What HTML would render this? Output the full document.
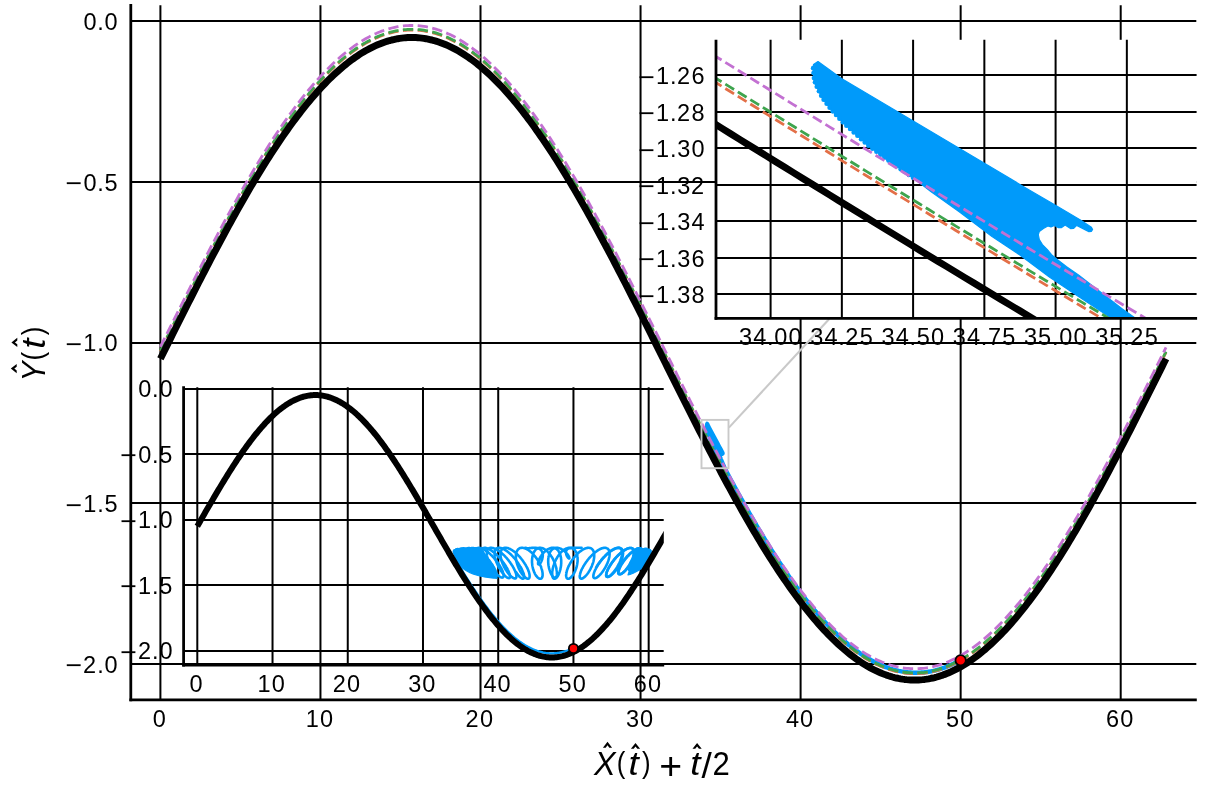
<!DOCTYPE html>
<html><head><meta charset="utf-8"><title>Trajectory on a sinusoidal surface with lens insets</title><style>html,body{margin:0;padding:0;background:#fff;width:1212px;height:791px;overflow:hidden}svg{display:block;position:absolute;left:0;top:0;will-change:transform}</style></head><body>
<svg width="1212" height="791" viewBox="0 0 1212 791" font-family="'Liberation Sans', sans-serif" fill="#000">
<defs>
<clipPath id="cm"><rect x="131" y="4" width="1066" height="696"/></clipPath>
<clipPath id="cu"><rect x="716" y="39.3" width="480.5" height="278.9"/></clipPath>
<clipPath id="cl"><rect x="183.6" y="387" width="480.2" height="278"/></clipPath>
</defs>
<rect width="1212" height="791" fill="#fff"/>
<g stroke="#000" stroke-width="2.0" fill="none">
<path d="M160.4 5.2 V699.9"/>
<path d="M320.45 5.2 V699.9"/>
<path d="M480.5 5.2 V699.9"/>
<path d="M640.55 5.2 V699.9"/>
<path d="M800.6 5.2 V699.9"/>
<path d="M960.65 5.2 V699.9"/>
<path d="M1120.7 5.2 V699.9"/>
<path d="M130.8 21 H1196.3"/>
<path d="M130.8 182 H1196.3"/>
<path d="M130.8 343 H1196.3"/>
<path d="M130.8 503 H1196.3"/>
<path d="M130.8 664 H1196.3"/>
</g>
<g clip-path="url(#cm)" fill="none" stroke-linejoin="round">
<path d="M707.23 423.79 L708.55 426.77 L712.58 434.25 L717.45 443.33 L719.09 446.41 L720.57 449.09 L721.99 451.75 L722.59 452.96 L722.65 453.37 L722.59 453.68 L722.45 453.74 L721.76 452.65 L721.59 453.17 L721.41 453.21 L721.11 452.56 L720.91 453.03 L720.74 453.03 L720.51 452.65 L720.32 452.91 L720.14 452.73 L719.89 453.17 L719.66 453.72 L719.6 454.25 L719.66 455.13 L719.83 456.03 L720.11 456.92 L720.34 457.8 L720.68 458.7 L721.19 459.93 L721.86 461.36 L723.07 464.32 L724.29 467.28 L724.96 468.76 L725.88 470.89 L724.47 470.89 L723.61 468.76 L721.86 465.16 L720.24 461.78 L718.63 457.98 L717 454.6 L715.18 450.28 L713.57 446.69 L712.64 444.46 L711.23 441.37 L709.99 438.47 L708.64 434.56 L707.98 432.35 L707.45 430.14 L707.14 428.14 L707.01 427.05 L706.95 424.96 L706.98 424.32Z" fill="#009AFA" stroke="#009AFA" stroke-width="4.17" stroke-linejoin="round"/>
<path d="M722.98 465.19 L724.16 467.43 L725.35 469.67 L726.54 471.89 L727.73 474.11 L728.92 476.32 L730.11 478.53 L731.29 480.73 L732.48 482.92 L733.67 485.1 L734.86 487.28 L736.05 489.45 L737.24 491.61 L738.42 493.76 L739.61 495.9 L740.8 498.04 L741.99 500.17 L743.18 502.29 L744.37 504.4 L745.55 506.5 L746.74 508.6 L747.93 510.68 L749.12 512.76 L750.31 514.82 L751.5 516.88 L752.69 518.93 L753.87 520.97 L755.06 523 L756.25 525.02 L757.44 527.03 L758.63 529.03 L759.82 531.02 L761 533 L762.19 534.97 L763.38 536.93 L764.57 538.88 L765.76 540.82 L766.95 542.75 L768.13 544.67 L769.32 546.57 L770.51 548.47 L771.7 550.36 L772.89 552.23 L774.08 554.09 L775.26 555.95 L776.45 557.79 L777.64 559.61 L778.83 561.43 L780.02 563.24 L781.21 565.03 L782.39 566.81 L783.58 568.58 L784.77 570.34 L785.96 572.08 L787.15 573.82 L788.34 575.54 L789.52 577.25 L790.71 578.94 L791.9 580.63 L793.09 582.3 L794.28 583.95 L795.47 585.6 L796.65 587.23 L797.84 588.85 L799.03 590.45 L800.22 592.04 L801.41 593.62 L802.6 595.19 L803.78 596.74 L804.97 598.28 L806.16 599.8 L807.35 601.31 L808.54 602.81 L809.73 604.29 L810.92 605.76 L812.1 607.21 L813.29 608.65 L814.48 610.08 L815.67 611.49 L816.86 612.89 L818.05 614.27 L819.23 615.64 L820.42 616.99 L821.61 618.33 L822.8 619.65 L823.99 620.96 L825.18 622.25 L826.36 623.53 L827.55 624.8 L828.74 626.05 L829.93 627.28 L831.12 628.5 L832.31 629.7 L833.49 630.89 L834.68 632.06 L835.87 633.22 L837.06 634.36 L838.25 635.48 L839.44 636.59 L840.62 637.68 L841.81 638.76 L843 639.82 L844.19 640.87 L845.38 641.9 L846.57 642.91 L847.75 643.91 L848.94 644.89 L850.13 645.86 L851.32 646.8 L852.51 647.74 L853.7 648.65 L854.88 649.55 L856.07 650.44 L857.26 651.3 L858.45 652.15 L859.64 652.98 L860.83 653.8 L862.02 654.6 L863.2 655.38 L864.39 656.15 L865.58 656.9 L866.77 657.63 L867.96 658.35 L869.15 659.05 L870.33 659.73 L871.52 660.39 L872.71 661.04 L873.9 661.67 L875.09 662.28 L876.28 662.88 L877.46 663.46 L878.65 664.02 L879.84 664.57 L881.03 665.09 L882.22 665.6 L883.41 666.1 L884.59 666.57 L885.78 667.03 L886.97 667.47 L888.16 667.89 L889.35 668.3 L890.54 668.68 L891.72 669.05 L892.91 669.41 L894.1 669.74 L895.29 670.06 L896.48 670.36 L897.67 670.64 L898.85 670.91 L900.04 671.15 L901.23 671.38 L902.42 671.6 L903.61 671.79 L904.8 671.97 L905.98 672.13 L907.17 672.27 L908.36 672.39 L909.55 672.5 L910.74 672.59 L911.93 672.66 L913.12 672.71 L914.3 672.74 L915.49 672.76 L916.68 672.76 L917.87 672.74 L919.06 672.71 L920.25 672.65 L921.43 672.58 L922.62 672.49 L923.81 672.39 L925 672.26 L926.19 672.12 L927.38 671.96 L928.56 671.78 L929.75 671.59 L930.94 671.37 L932.13 671.14 L933.32 670.9 L934.51 670.63 L935.69 670.35 L936.88 670.05 L938.07 669.71 L939.26 669.36 L940.45 668.98 L941.64 668.59 L942.82 668.18 L944.01 667.75 L945.2 667.31 L946.39 666.85 L947.58 666.37 L948.77 665.87 L949.95 665.36 L951.14 664.83 L952.33 664.28 L953.52 663.71 L954.71 663.13 L955.9 662.53 L957.08 661.91 L958.27 661.28 L959.46 660.63 L960.65 659.96" stroke="#009AFA" stroke-width="4.5"/>
<path d="M160.4 351.38 L162.41 347.34 L164.42 343.3 L166.43 339.27 L168.44 335.23 L170.46 331.2 L172.47 327.17 L174.48 323.15 L176.49 319.13 L178.5 315.11 L180.51 311.11 L182.52 307.1 L184.53 303.11 L186.55 299.12 L188.56 295.14 L190.57 291.17 L192.58 287.21 L194.59 283.26 L196.6 279.32 L198.61 275.39 L200.62 271.47 L202.64 267.57 L204.65 263.68 L206.66 259.8 L208.67 255.94 L210.68 252.09 L212.69 248.26 L214.7 244.44 L216.71 240.64 L218.73 236.86 L220.74 233.1 L222.75 229.35 L224.76 225.63 L226.77 221.92 L228.78 218.24 L230.79 214.57 L232.8 210.93 L234.82 207.31 L236.83 203.71 L238.84 200.14 L240.85 196.59 L242.86 193.06 L244.87 189.56 L246.88 186.09 L248.89 182.64 L250.91 179.21 L252.92 175.82 L254.93 172.45 L256.94 169.11 L258.95 165.8 L260.96 162.52 L262.97 159.27 L264.98 156.05 L267 152.86 L269.01 149.7 L271.02 146.57 L273.03 143.48 L275.04 140.41 L277.05 137.39 L279.06 134.39 L281.07 131.43 L283.09 128.5 L285.1 125.61 L287.11 122.76 L289.12 119.94 L291.13 117.16 L293.14 114.41 L295.15 111.7 L297.16 109.03 L299.18 106.4 L301.19 103.81 L303.2 101.26 L305.21 98.74 L307.22 96.27 L309.23 93.83 L311.24 91.44 L313.25 89.09 L315.27 86.77 L317.28 84.5 L319.29 82.28 L321.3 80.09 L323.31 77.95 L325.32 75.85 L327.33 73.8 L329.34 71.78 L331.36 69.82 L333.37 67.89 L335.38 66.02 L337.39 64.18 L339.4 62.4 L341.41 60.65 L343.42 58.96 L345.43 57.31 L347.45 55.7 L349.46 54.15 L351.47 52.64 L353.48 51.18 L355.49 49.76 L357.5 48.39 L359.51 47.07 L361.52 45.8 L363.54 44.58 L365.55 43.4 L367.56 42.28 L369.57 41.2 L371.58 40.17 L373.59 39.19 L375.6 38.26 L377.61 37.38 L379.63 36.55 L381.64 35.77 L383.65 35.03 L385.66 34.35 L387.67 33.72 L389.68 33.14 L391.69 32.61 L393.7 32.13 L395.72 31.7 L397.73 31.32 L399.74 30.99 L401.75 30.71 L403.76 30.48 L405.77 30.3 L407.78 30.18 L409.79 30.1 L411.81 30.08 L413.82 30.1 L415.83 30.18 L417.84 30.3 L419.85 30.48 L421.86 30.71 L423.87 30.99 L425.88 31.32 L427.9 31.7 L429.91 32.13 L431.92 32.61 L433.93 33.14 L435.94 33.72 L437.95 34.35 L439.96 35.03 L441.97 35.77 L443.99 36.55 L446 37.38 L448.01 38.26 L450.02 39.19 L452.03 40.17 L454.04 41.2 L456.05 42.28 L458.06 43.4 L460.08 44.58 L462.09 45.8 L464.1 47.07 L466.11 48.39 L468.12 49.76 L470.13 51.18 L472.14 52.64 L474.15 54.15 L476.17 55.7 L478.18 57.31 L480.19 58.96 L482.2 60.65 L484.21 62.4 L486.22 64.18 L488.23 66.02 L490.24 67.9 L492.26 69.82 L494.27 71.79 L496.28 73.8 L498.29 75.85 L500.3 77.95 L502.31 80.09 L504.32 82.28 L506.33 84.5 L508.35 86.77 L510.36 89.09 L512.37 91.44 L514.38 93.83 L516.39 96.27 L518.4 98.74 L520.41 101.26 L522.42 103.81 L524.44 106.4 L526.45 109.03 L528.46 111.7 L530.47 114.41 L532.48 117.16 L534.49 119.94 L536.5 122.76 L538.51 125.61 L540.53 128.5 L542.54 131.43 L544.55 134.39 L546.56 137.39 L548.57 140.41 L550.58 143.48 L552.59 146.57 L554.6 149.7 L556.62 152.86 L558.63 156.05 L560.64 159.27 L562.65 162.52 L564.66 165.8 L566.67 169.11 L568.68 172.45 L570.69 175.82 L572.71 179.21 L574.72 182.64 L576.73 186.09 L578.74 189.56 L580.75 193.06 L582.76 196.59 L584.77 200.14 L586.78 203.71 L588.8 207.31 L590.81 210.93 L592.82 214.57 L594.83 218.24 L596.84 221.92 L598.85 225.63 L600.86 229.35 L602.87 233.1 L604.89 236.86 L606.9 240.64 L608.91 244.44 L610.92 248.26 L612.93 252.09 L614.94 255.94 L616.95 259.8 L618.96 263.68 L620.98 267.57 L622.99 271.47 L625 275.39 L627.01 279.32 L629.02 283.26 L631.03 287.21 L633.04 291.17 L635.05 295.14 L637.07 299.12 L639.08 303.11 L641.09 307.1 L643.1 311.11 L645.11 315.12 L647.12 319.13 L649.13 323.15 L651.14 327.17 L653.16 331.2 L655.17 335.23 L657.18 339.27 L659.19 343.3 L661.2 347.34 L663.21 351.38 L665.22 355.41 L667.23 359.45 L669.25 363.49 L671.26 367.52 L673.27 371.55 L675.28 375.58 L677.29 379.6 L679.3 383.62 L681.31 387.64 L683.32 391.65 L685.34 395.65 L687.35 399.64 L689.36 403.63 L691.37 407.61 L693.38 411.58 L695.39 415.54 L697.4 419.49 L699.41 423.43 L701.43 427.36 L703.44 431.28 L705.45 435.19 L707.46 439.09 L709.47 442.98 L711.48 446.85 L713.49 450.71 L715.5 454.55 L717.52 458.37 L719.53 462.18 L721.54 465.97 L723.55 469.75 L725.56 473.5 L727.57 477.24 L729.58 480.95 L731.59 484.65 L733.61 488.32 L735.62 491.97 L737.63 495.6 L739.64 499.21 L741.65 502.8 L743.66 506.36 L745.67 509.89 L747.68 513.4 L749.7 516.89 L751.71 520.35 L753.72 523.78 L755.73 527.19 L757.74 530.56 L759.75 533.91 L761.76 537.23 L763.77 540.52 L765.79 543.79 L767.8 547.02 L769.81 550.22 L771.82 553.39 L773.83 556.52 L775.84 559.63 L777.85 562.7 L779.86 565.74 L781.88 568.74 L783.89 571.71 L785.9 574.65 L787.91 577.55 L789.92 580.41 L791.93 583.24 L793.94 586.04 L795.95 588.79 L797.97 591.51 L799.98 594.19 L801.99 596.83 L804 599.43 L806.01 602 L808.02 604.52 L810.03 607.01 L812.04 609.45 L814.06 611.85 L816.07 614.22 L818.08 616.54 L820.09 618.82 L822.1 621.05 L824.11 623.25 L826.12 625.4 L828.13 627.51 L830.15 629.57 L832.16 631.6 L834.17 633.57 L836.18 635.51 L838.19 637.39 L840.2 639.24 L842.21 641.03 L844.22 642.79 L846.24 644.49 L848.25 646.15 L850.26 647.77 L852.27 649.33 L854.28 650.85 L856.29 652.33 L858.3 653.75 L860.31 655.13 L862.33 656.46 L864.34 657.74 L866.35 658.97 L868.36 660.16 L870.37 661.29 L872.38 662.38 L874.39 663.42 L876.4 664.41 L878.42 665.35 L880.43 666.24 L882.44 667.08 L884.45 667.87 L886.46 668.61 L888.47 669.31 L890.48 669.95 L892.49 670.54 L894.51 671.08 L896.52 671.57 L898.53 672.01 L900.54 672.4 L902.55 672.74 L904.56 673.03 L906.57 673.27 L908.58 673.45 L910.6 673.59 L912.61 673.68 L914.62 673.7 L916.63 673.68 L918.64 673.6 L920.65 673.47 L922.66 673.3 L924.67 673.07 L926.69 672.79 L928.7 672.46 L930.71 672.08 L932.72 671.65 L934.73 671.17 L936.74 670.64 L938.75 670.06 L940.76 669.43 L942.78 668.74 L944.79 668.01 L946.8 667.23 L948.81 666.4 L950.82 665.52 L952.83 664.59 L954.84 663.61 L956.85 662.58 L958.87 661.5 L960.88 660.38 L962.89 659.2 L964.9 657.98 L966.91 656.71 L968.92 655.39 L970.93 654.02 L972.94 652.6 L974.96 651.14 L976.97 649.63 L978.98 648.07 L980.99 646.47 L983 644.82 L985.01 643.12 L987.02 641.38 L989.03 639.59 L991.05 637.76 L993.06 635.88 L995.07 633.96 L997.08 631.99 L999.09 629.98 L1001.1 627.93 L1003.11 625.83 L1005.12 623.69 L1007.14 621.5 L1009.15 619.27 L1011.16 617 L1013.17 614.69 L1015.18 612.34 L1017.19 609.95 L1019.2 607.51 L1021.21 605.04 L1023.23 602.52 L1025.24 599.97 L1027.25 597.38 L1029.26 594.74 L1031.27 592.07 L1033.28 589.37 L1035.29 586.62 L1037.3 583.84 L1039.32 581.02 L1041.33 578.16 L1043.34 575.27 L1045.35 572.35 L1047.36 569.39 L1049.37 566.39 L1051.38 563.36 L1053.39 560.3 L1055.41 557.21 L1057.42 554.08 L1059.43 550.92 L1061.44 547.73 L1063.45 544.51 L1065.46 541.26 L1067.47 537.98 L1069.48 534.67 L1071.5 531.33 L1073.51 527.96 L1075.52 524.56 L1077.53 521.14 L1079.54 517.69 L1081.55 514.22 L1083.56 510.72 L1085.57 507.19 L1087.59 503.64 L1089.6 500.07 L1091.61 496.47 L1093.62 492.85 L1095.63 489.2 L1097.64 485.54 L1099.65 481.86 L1101.66 478.15 L1103.68 474.42 L1105.69 470.68 L1107.7 466.92 L1109.71 463.14 L1111.72 459.34 L1113.73 455.52 L1115.74 451.69 L1117.75 447.84 L1119.77 443.98 L1121.78 440.1 L1123.79 436.21 L1125.8 432.31 L1127.81 428.39 L1129.82 424.46 L1131.83 420.52 L1133.84 416.57 L1135.86 412.61 L1137.87 408.64 L1139.88 404.66 L1141.89 400.67 L1143.9 396.67 L1145.91 392.67 L1147.92 388.66 L1149.93 384.65 L1151.95 380.63 L1153.96 376.6 L1155.97 372.58 L1157.98 368.55 L1159.99 364.51 L1162 360.48 L1164.01 356.44 L1166.02 352.4" stroke="#E36F47" stroke-width="2.78" stroke-dasharray="10.33 4.46" stroke-dashoffset="0.3"/>
<path d="M160.4 350.6 L162.41 346.57 L164.42 342.53 L166.43 338.49 L168.44 334.46 L170.46 330.43 L172.47 326.4 L174.48 322.38 L176.49 318.36 L178.5 314.34 L180.51 310.33 L182.52 306.33 L184.53 302.34 L186.55 298.35 L188.56 294.37 L190.57 290.4 L192.58 286.44 L194.59 282.49 L196.6 278.55 L198.61 274.62 L200.62 270.7 L202.64 266.8 L204.65 262.9 L206.66 259.03 L208.67 255.16 L210.68 251.32 L212.69 247.48 L214.7 243.67 L216.71 239.87 L218.73 236.09 L220.74 232.33 L222.75 228.58 L224.76 224.86 L226.77 221.15 L228.78 217.47 L230.79 213.8 L232.8 210.16 L234.82 206.54 L236.83 202.94 L238.84 199.37 L240.85 195.82 L242.86 192.29 L244.87 188.79 L246.88 185.31 L248.89 181.87 L250.91 178.44 L252.92 175.05 L254.93 171.68 L256.94 168.34 L258.95 165.03 L260.96 161.75 L262.97 158.5 L264.98 155.28 L267 152.09 L269.01 148.93 L271.02 145.8 L273.03 142.7 L275.04 139.64 L277.05 136.61 L279.06 133.62 L281.07 130.66 L283.09 127.73 L285.1 124.84 L287.11 121.99 L289.12 119.17 L291.13 116.39 L293.14 113.64 L295.15 110.93 L297.16 108.26 L299.18 105.63 L301.19 103.04 L303.2 100.48 L305.21 97.97 L307.22 95.49 L309.23 93.06 L311.24 90.67 L313.25 88.31 L315.27 86 L317.28 83.73 L319.29 81.51 L321.3 79.32 L323.31 77.18 L325.32 75.08 L327.33 73.03 L329.34 71.01 L331.36 69.05 L333.37 67.12 L335.38 65.25 L337.39 63.41 L339.4 61.62 L341.41 59.88 L343.42 58.19 L345.43 56.54 L347.45 54.93 L349.46 53.38 L351.47 51.87 L353.48 50.4 L355.49 48.99 L357.5 47.62 L359.51 46.3 L361.52 45.03 L363.54 43.81 L365.55 42.63 L367.56 41.5 L369.57 40.43 L371.58 39.4 L373.59 38.42 L375.6 37.49 L377.61 36.61 L379.63 35.78 L381.64 35 L383.65 34.26 L385.66 33.58 L387.67 32.95 L389.68 32.37 L391.69 31.84 L393.7 31.36 L395.72 30.93 L397.73 30.55 L399.74 30.22 L401.75 29.94 L403.76 29.71 L405.77 29.53 L407.78 29.41 L409.79 29.33 L411.81 29.3 L413.82 29.33 L415.83 29.41 L417.84 29.53 L419.85 29.71 L421.86 29.94 L423.87 30.22 L425.88 30.55 L427.9 30.93 L429.91 31.36 L431.92 31.84 L433.93 32.37 L435.94 32.95 L437.95 33.58 L439.96 34.26 L441.97 35 L443.99 35.78 L446 36.61 L448.01 37.49 L450.02 38.42 L452.03 39.4 L454.04 40.43 L456.05 41.5 L458.06 42.63 L460.08 43.81 L462.09 45.03 L464.1 46.3 L466.11 47.62 L468.12 48.99 L470.13 50.4 L472.14 51.87 L474.15 53.38 L476.17 54.93 L478.18 56.54 L480.19 58.19 L482.2 59.88 L484.21 61.63 L486.22 63.41 L488.23 65.25 L490.24 67.12 L492.26 69.05 L494.27 71.01 L496.28 73.03 L498.29 75.08 L500.3 77.18 L502.31 79.32 L504.32 81.51 L506.33 83.73 L508.35 86 L510.36 88.31 L512.37 90.67 L514.38 93.06 L516.39 95.5 L518.4 97.97 L520.41 100.48 L522.42 103.04 L524.44 105.63 L526.45 108.26 L528.46 110.93 L530.47 113.64 L532.48 116.39 L534.49 119.17 L536.5 121.99 L538.51 124.84 L540.53 127.73 L542.54 130.66 L544.55 133.62 L546.56 136.61 L548.57 139.64 L550.58 142.71 L552.59 145.8 L554.6 148.93 L556.62 152.09 L558.63 155.28 L560.64 158.5 L562.65 161.75 L564.66 165.03 L566.67 168.34 L568.68 171.68 L570.69 175.05 L572.71 178.44 L574.72 181.87 L576.73 185.32 L578.74 188.79 L580.75 192.29 L582.76 195.82 L584.77 199.37 L586.78 202.94 L588.8 206.54 L590.81 210.16 L592.82 213.8 L594.83 217.47 L596.84 221.15 L598.85 224.86 L600.86 228.58 L602.87 232.33 L604.89 236.09 L606.9 239.87 L608.91 243.67 L610.92 247.49 L612.93 251.32 L614.94 255.17 L616.95 259.03 L618.96 262.91 L620.98 266.8 L622.99 270.7 L625 274.62 L627.01 278.55 L629.02 282.49 L631.03 286.44 L633.04 290.4 L635.05 294.37 L637.07 298.35 L639.08 302.34 L641.09 306.33 L643.1 310.34 L645.11 314.34 L647.12 318.36 L649.13 322.38 L651.14 326.4 L653.16 330.43 L655.17 334.46 L657.18 338.49 L659.19 342.53 L661.2 346.57 L663.21 350.6 L665.22 354.64 L667.23 358.68 L669.25 362.71 L671.26 366.75 L673.27 370.78 L675.28 374.81 L677.29 378.83 L679.3 382.85 L681.31 386.87 L683.32 390.87 L685.34 394.88 L687.35 398.87 L689.36 402.86 L691.37 406.84 L693.38 410.81 L695.39 414.77 L697.4 418.72 L699.41 422.66 L701.43 426.59 L703.44 430.51 L705.45 434.42 L707.46 438.32 L709.47 442.21 L711.48 446.08 L713.49 449.94 L715.5 453.78 L717.52 457.6 L719.53 461.41 L721.54 465.2 L723.55 468.98 L725.56 472.73 L727.57 476.47 L729.58 480.18 L731.59 483.88 L733.61 487.55 L735.62 491.2 L737.63 494.83 L739.64 498.44 L741.65 502.03 L743.66 505.59 L745.67 509.12 L747.68 512.63 L749.7 516.12 L751.71 519.58 L753.72 523.01 L755.73 526.41 L757.74 529.79 L759.75 533.14 L761.76 536.46 L763.77 539.75 L765.79 543.01 L767.8 546.25 L769.81 549.45 L771.82 552.61 L773.83 555.75 L775.84 558.86 L777.85 561.93 L779.86 564.97 L781.88 567.97 L783.89 570.94 L785.9 573.88 L787.91 576.78 L789.92 579.64 L791.93 582.47 L793.94 585.26 L795.95 588.02 L797.97 590.74 L799.98 593.42 L801.99 596.06 L804 598.66 L806.01 601.23 L808.02 603.75 L810.03 606.23 L812.04 608.68 L814.06 611.08 L816.07 613.45 L818.08 615.77 L820.09 618.05 L822.1 620.28 L824.11 622.48 L826.12 624.63 L828.13 626.74 L830.15 628.8 L832.16 630.82 L834.17 632.8 L836.18 634.73 L838.19 636.62 L840.2 638.47 L842.21 640.26 L844.22 642.02 L846.24 643.72 L848.25 645.38 L850.26 646.99 L852.27 648.56 L854.28 650.08 L856.29 651.55 L858.3 652.98 L860.31 654.36 L862.33 655.69 L864.34 656.97 L866.35 658.2 L868.36 659.39 L870.37 660.52 L872.38 661.61 L874.39 662.65 L876.4 663.64 L878.42 664.58 L880.43 665.47 L882.44 666.31 L884.45 667.1 L886.46 667.84 L888.47 668.54 L890.48 669.18 L892.49 669.77 L894.51 670.31 L896.52 670.8 L898.53 671.24 L900.54 671.63 L902.55 671.97 L904.56 672.26 L906.57 672.5 L908.58 672.68 L910.6 672.82 L912.61 672.91 L914.62 672.93 L916.63 672.91 L918.64 672.83 L920.65 672.7 L922.66 672.53 L924.67 672.3 L926.69 672.02 L928.7 671.69 L930.71 671.31 L932.72 670.88 L934.73 670.4 L936.74 669.87 L938.75 669.29 L940.76 668.65 L942.78 667.97 L944.79 667.24 L946.8 666.46 L948.81 665.63 L950.82 664.75 L952.83 663.82 L954.84 662.84 L956.85 661.81 L958.87 660.73 L960.88 659.6 L962.89 658.43 L964.9 657.21 L966.91 655.93 L968.92 654.61 L970.93 653.25 L972.94 651.83 L974.96 650.37 L976.97 648.86 L978.98 647.3 L980.99 645.7 L983 644.05 L985.01 642.35 L987.02 640.61 L989.03 638.82 L991.05 636.99 L993.06 635.11 L995.07 633.19 L997.08 631.22 L999.09 629.21 L1001.1 627.15 L1003.11 625.06 L1005.12 622.91 L1007.14 620.73 L1009.15 618.5 L1011.16 616.23 L1013.17 613.92 L1015.18 611.57 L1017.19 609.17 L1019.2 606.74 L1021.21 604.27 L1023.23 601.75 L1025.24 599.2 L1027.25 596.6 L1029.26 593.97 L1031.27 591.3 L1033.28 588.59 L1035.29 585.85 L1037.3 583.07 L1039.32 580.25 L1041.33 577.39 L1043.34 574.5 L1045.35 571.58 L1047.36 568.62 L1049.37 565.62 L1051.38 562.59 L1053.39 559.53 L1055.41 556.44 L1057.42 553.31 L1059.43 550.15 L1061.44 546.96 L1063.45 543.74 L1065.46 540.49 L1067.47 537.21 L1069.48 533.89 L1071.5 530.56 L1073.51 527.19 L1075.52 523.79 L1077.53 520.37 L1079.54 516.92 L1081.55 513.45 L1083.56 509.94 L1085.57 506.42 L1087.59 502.87 L1089.6 499.29 L1091.61 495.7 L1093.62 492.08 L1095.63 488.43 L1097.64 484.77 L1099.65 481.08 L1101.66 477.38 L1103.68 473.65 L1105.69 469.91 L1107.7 466.15 L1109.71 462.36 L1111.72 458.57 L1113.73 454.75 L1115.74 450.92 L1117.75 447.07 L1119.77 443.21 L1121.78 439.33 L1123.79 435.44 L1125.8 431.53 L1127.81 427.62 L1129.82 423.69 L1131.83 419.75 L1133.84 415.8 L1135.86 411.84 L1137.87 407.87 L1139.88 403.89 L1141.89 399.9 L1143.9 395.9 L1145.91 391.9 L1147.92 387.89 L1149.93 383.88 L1151.95 379.86 L1153.96 375.83 L1155.97 371.81 L1157.98 367.77 L1159.99 363.74 L1162 359.7 L1164.01 355.67 L1166.02 351.63" stroke="#3EA44E" stroke-width="2.78" stroke-dasharray="10.33 4.46" stroke-dashoffset="0.3"/>
<path d="M160.4 346.78 L162.41 342.74 L164.42 338.71 L166.43 334.67 L168.44 330.64 L170.46 326.61 L172.47 322.58 L174.48 318.55 L176.49 314.53 L178.5 310.52 L180.51 306.51 L182.52 302.51 L184.53 298.51 L186.55 294.53 L188.56 290.55 L190.57 286.57 L192.58 282.61 L194.59 278.66 L196.6 274.72 L198.61 270.79 L200.62 266.88 L202.64 262.97 L204.65 259.08 L206.66 255.2 L208.67 251.34 L210.68 247.49 L212.69 243.66 L214.7 239.85 L216.71 236.05 L218.73 232.27 L220.74 228.5 L222.75 224.76 L224.76 221.03 L226.77 217.33 L228.78 213.64 L230.79 209.98 L232.8 206.34 L234.82 202.71 L236.83 199.12 L238.84 195.54 L240.85 191.99 L242.86 188.47 L244.87 184.97 L246.88 181.49 L248.89 178.04 L250.91 174.62 L252.92 171.22 L254.93 167.86 L256.94 164.52 L258.95 161.21 L260.96 157.92 L262.97 154.67 L264.98 151.45 L267 148.26 L269.01 145.1 L271.02 141.98 L273.03 138.88 L275.04 135.82 L277.05 132.79 L279.06 129.8 L281.07 126.84 L283.09 123.91 L285.1 121.02 L287.11 118.16 L289.12 115.35 L291.13 112.56 L293.14 109.82 L295.15 107.11 L297.16 104.44 L299.18 101.81 L301.19 99.21 L303.2 96.66 L305.21 94.15 L307.22 91.67 L309.23 89.24 L311.24 86.84 L313.25 84.49 L315.27 82.18 L317.28 79.91 L319.29 77.68 L321.3 75.5 L323.31 73.36 L325.32 71.26 L327.33 69.2 L329.34 67.19 L331.36 65.22 L333.37 63.3 L335.38 61.42 L337.39 59.59 L339.4 57.8 L341.41 56.06 L343.42 54.36 L345.43 52.71 L347.45 51.11 L349.46 49.55 L351.47 48.04 L353.48 46.58 L355.49 45.17 L357.5 43.8 L359.51 42.48 L361.52 41.21 L363.54 39.98 L365.55 38.81 L367.56 37.68 L369.57 36.6 L371.58 35.57 L373.59 34.6 L375.6 33.66 L377.61 32.78 L379.63 31.95 L381.64 31.17 L383.65 30.44 L385.66 29.76 L387.67 29.13 L389.68 28.55 L391.69 28.01 L393.7 27.53 L395.72 27.1 L397.73 26.72 L399.74 26.39 L401.75 26.11 L403.76 25.89 L405.77 25.71 L407.78 25.58 L409.79 25.51 L411.81 25.48 L413.82 25.51 L415.83 25.58 L417.84 25.71 L419.85 25.89 L421.86 26.11 L423.87 26.39 L425.88 26.72 L427.9 27.1 L429.91 27.53 L431.92 28.01 L433.93 28.55 L435.94 29.13 L437.95 29.76 L439.96 30.44 L441.97 31.17 L443.99 31.95 L446 32.78 L448.01 33.67 L450.02 34.6 L452.03 35.57 L454.04 36.6 L456.05 37.68 L458.06 38.81 L460.08 39.98 L462.09 41.21 L464.1 42.48 L466.11 43.8 L468.12 45.17 L470.13 46.58 L472.14 48.04 L474.15 49.55 L476.17 51.11 L478.18 52.71 L480.19 54.36 L482.2 56.06 L484.21 57.8 L486.22 59.59 L488.23 61.42 L490.24 63.3 L492.26 65.22 L494.27 67.19 L496.28 69.2 L498.29 71.26 L500.3 73.36 L502.31 75.5 L504.32 77.68 L506.33 79.91 L508.35 82.18 L510.36 84.49 L512.37 86.84 L514.38 89.24 L516.39 91.67 L518.4 94.15 L520.41 96.66 L522.42 99.21 L524.44 101.81 L526.45 104.44 L528.46 107.11 L530.47 109.82 L532.48 112.56 L534.49 115.35 L536.5 118.16 L538.51 121.02 L540.53 123.91 L542.54 126.84 L544.55 129.8 L546.56 132.79 L548.57 135.82 L550.58 138.88 L552.59 141.98 L554.6 145.1 L556.62 148.26 L558.63 151.45 L560.64 154.67 L562.65 157.93 L564.66 161.21 L566.67 164.52 L568.68 167.86 L570.69 171.22 L572.71 174.62 L574.72 178.04 L576.73 181.49 L578.74 184.97 L580.75 188.47 L582.76 191.99 L584.77 195.54 L586.78 199.12 L588.8 202.72 L590.81 206.34 L592.82 209.98 L594.83 213.64 L596.84 217.33 L598.85 221.03 L600.86 224.76 L602.87 228.5 L604.89 232.27 L606.9 236.05 L608.91 239.85 L610.92 243.66 L612.93 247.49 L614.94 251.34 L616.95 255.2 L618.96 259.08 L620.98 262.97 L622.99 266.88 L625 270.79 L627.01 274.72 L629.02 278.66 L631.03 282.61 L633.04 286.58 L635.05 290.55 L637.07 294.53 L639.08 298.51 L641.09 302.51 L643.1 306.51 L645.11 310.52 L647.12 314.54 L649.13 318.55 L651.14 322.58 L653.16 326.61 L655.17 330.64 L657.18 334.67 L659.19 338.71 L661.2 342.74 L663.21 346.78 L665.22 350.82 L667.23 354.86 L669.25 358.89 L671.26 362.92 L673.27 366.96 L675.28 370.98 L677.29 375.01 L679.3 379.03 L681.31 383.04 L683.32 387.05 L685.34 391.05 L687.35 395.05 L689.36 399.04 L691.37 403.02 L693.38 406.99 L695.39 410.95 L697.4 414.9 L699.41 418.84 L701.43 422.77 L703.44 426.69 L705.45 430.59 L707.46 434.49 L709.47 438.37 L711.48 442.24 L713.49 446.1 L715.5 449.93 L717.52 453.76 L719.53 457.56 L721.54 461.35 L723.55 465.12 L725.56 468.87 L727.57 472.6 L729.58 476.31 L731.59 480 L733.61 483.67 L735.62 487.32 L737.63 490.95 L739.64 494.55 L741.65 498.13 L743.66 501.69 L745.67 505.22 L747.68 508.73 L749.7 512.21 L751.71 515.67 L753.72 519.09 L755.73 522.5 L757.74 525.87 L759.75 529.22 L761.76 532.53 L763.77 535.82 L765.79 539.08 L767.8 542.3 L769.81 545.5 L771.82 548.67 L773.83 551.8 L775.84 554.9 L777.85 557.97 L779.86 561 L781.88 564 L783.89 566.97 L785.9 569.9 L787.91 572.8 L789.92 575.66 L791.93 578.49 L793.94 581.27 L795.95 584.03 L797.97 586.74 L799.98 589.42 L801.99 592.05 L804 594.65 L806.01 597.21 L808.02 599.74 L810.03 602.22 L812.04 604.66 L814.06 607.06 L816.07 609.42 L818.08 611.73 L820.09 614.01 L822.1 616.24 L824.11 618.43 L826.12 620.58 L828.13 622.69 L830.15 624.75 L832.16 626.77 L834.17 628.74 L836.18 630.67 L838.19 632.55 L840.2 634.39 L842.21 636.18 L844.22 637.93 L846.24 639.64 L848.25 641.29 L850.26 642.9 L852.27 644.46 L854.28 645.98 L856.29 647.45 L858.3 648.87 L860.31 650.24 L862.33 651.57 L864.34 652.85 L866.35 654.08 L868.36 655.26 L870.37 656.39 L872.38 657.48 L874.39 658.51 L876.4 659.5 L878.42 660.43 L880.43 661.32 L882.44 662.16 L884.45 662.95 L886.46 663.68 L888.47 664.37 L890.48 665.01 L892.49 665.6 L894.51 666.13 L896.52 666.62 L898.53 667.06 L900.54 667.44 L902.55 667.78 L904.56 668.06 L906.57 668.3 L908.58 668.48 L910.6 668.62 L912.61 668.7 L914.62 668.72 L916.63 668.7 L918.64 668.62 L920.65 668.49 L922.66 668.32 L924.67 668.09 L926.69 667.81 L928.7 667.48 L930.71 667.1 L932.72 666.67 L934.73 666.19 L936.74 665.66 L938.75 665.08 L940.76 664.45 L942.78 663.76 L944.79 663.03 L946.8 662.25 L948.81 661.42 L950.82 660.54 L952.83 659.61 L954.84 658.63 L956.85 657.6 L958.87 656.52 L960.88 655.4 L962.89 654.22 L964.9 653 L966.91 651.73 L968.92 650.41 L970.93 649.04 L972.94 647.62 L974.96 646.16 L976.97 644.65 L978.98 643.09 L980.99 641.49 L983 639.84 L985.01 638.14 L987.02 636.4 L989.03 634.61 L991.05 632.78 L993.06 630.9 L995.07 628.98 L997.08 627.01 L999.09 625 L1001.1 622.95 L1003.11 620.85 L1005.12 618.7 L1007.14 616.52 L1009.15 614.29 L1011.16 612.02 L1013.17 609.71 L1015.18 607.36 L1017.19 604.97 L1019.2 602.53 L1021.21 600.06 L1023.23 597.54 L1025.24 594.99 L1027.25 592.4 L1029.26 589.76 L1031.27 587.09 L1033.28 584.39 L1035.29 581.64 L1037.3 578.86 L1039.32 576.04 L1041.33 573.18 L1043.34 570.29 L1045.35 567.37 L1047.36 564.41 L1049.37 561.41 L1051.38 558.38 L1053.39 555.32 L1055.41 552.23 L1057.42 549.1 L1059.43 545.94 L1061.44 542.75 L1063.45 539.53 L1065.46 536.28 L1067.47 533 L1069.48 529.69 L1071.5 526.35 L1073.51 522.98 L1075.52 519.58 L1077.53 516.16 L1079.54 512.71 L1081.55 509.24 L1083.56 505.74 L1085.57 502.21 L1087.59 498.66 L1089.6 495.08 L1091.61 491.49 L1093.62 487.87 L1095.63 484.22 L1097.64 480.56 L1099.65 476.88 L1101.66 473.17 L1103.68 469.44 L1105.69 465.7 L1107.7 461.94 L1109.71 458.16 L1111.72 454.36 L1113.73 450.54 L1115.74 446.71 L1117.75 442.86 L1119.77 439 L1121.78 435.12 L1123.79 431.23 L1125.8 427.33 L1127.81 423.41 L1129.82 419.48 L1131.83 415.54 L1133.84 411.59 L1135.86 407.63 L1137.87 403.66 L1139.88 399.68 L1141.89 395.69 L1143.9 391.69 L1145.91 387.69 L1147.92 383.68 L1149.93 379.67 L1151.95 375.65 L1153.96 371.62 L1155.97 367.6 L1157.98 363.57 L1159.99 359.53 L1162 355.5 L1164.01 351.46 L1166.02 347.42" stroke="#C371D2" stroke-width="2.78" stroke-dasharray="10.33 4.46" stroke-dashoffset="0.3"/>
<path d="M160.4 358.76 L162.41 354.73 L164.42 350.69 L166.43 346.66 L168.44 342.62 L170.46 338.59 L172.47 334.56 L174.48 330.54 L176.49 326.52 L178.5 322.5 L180.51 318.5 L182.52 314.49 L184.53 310.5 L186.55 306.51 L188.56 302.53 L190.57 298.56 L192.58 294.6 L194.59 290.65 L196.6 286.71 L198.61 282.78 L200.62 278.86 L202.64 274.96 L204.65 271.07 L206.66 267.19 L208.67 263.33 L210.68 259.48 L212.69 255.65 L214.7 251.83 L216.71 248.03 L218.73 244.25 L220.74 240.49 L222.75 236.74 L224.76 233.02 L226.77 229.31 L228.78 225.63 L230.79 221.96 L232.8 218.32 L234.82 214.7 L236.83 211.1 L238.84 207.53 L240.85 203.98 L242.86 200.45 L244.87 196.95 L246.88 193.48 L248.89 190.03 L250.91 186.6 L252.92 183.21 L254.93 179.84 L256.94 176.5 L258.95 173.19 L260.96 169.91 L262.97 166.66 L264.98 163.44 L267 160.25 L269.01 157.09 L271.02 153.96 L273.03 150.87 L275.04 147.8 L277.05 144.78 L279.06 141.78 L281.07 138.82 L283.09 135.89 L285.1 133 L287.11 130.15 L289.12 127.33 L291.13 124.55 L293.14 121.8 L295.15 119.09 L297.16 116.42 L299.18 113.79 L301.19 111.2 L303.2 108.64 L305.21 106.13 L307.22 103.66 L309.23 101.22 L311.24 98.83 L313.25 96.48 L315.27 94.16 L317.28 91.89 L319.29 89.67 L321.3 87.48 L323.31 85.34 L325.32 83.24 L327.33 81.19 L329.34 79.17 L331.36 77.21 L333.37 75.28 L335.38 73.41 L337.39 71.57 L339.4 69.79 L341.41 68.04 L343.42 66.35 L345.43 64.7 L347.45 63.09 L349.46 61.54 L351.47 60.03 L353.48 58.57 L355.49 57.15 L357.5 55.78 L359.51 54.46 L361.52 53.19 L363.54 51.97 L365.55 50.79 L367.56 49.67 L369.57 48.59 L371.58 47.56 L373.59 46.58 L375.6 45.65 L377.61 44.77 L379.63 43.94 L381.64 43.16 L383.65 42.42 L385.66 41.74 L387.67 41.11 L389.68 40.53 L391.69 40 L393.7 39.52 L395.72 39.09 L397.73 38.71 L399.74 38.38 L401.75 38.1 L403.76 37.87 L405.77 37.69 L407.78 37.57 L409.79 37.49 L411.81 37.47 L413.82 37.49 L415.83 37.57 L417.84 37.69 L419.85 37.87 L421.86 38.1 L423.87 38.38 L425.88 38.71 L427.9 39.09 L429.91 39.52 L431.92 40 L433.93 40.53 L435.94 41.11 L437.95 41.74 L439.96 42.42 L441.97 43.16 L443.99 43.94 L446 44.77 L448.01 45.65 L450.02 46.58 L452.03 47.56 L454.04 48.59 L456.05 49.67 L458.06 50.79 L460.08 51.97 L462.09 53.19 L464.1 54.46 L466.11 55.78 L468.12 57.15 L470.13 58.57 L472.14 60.03 L474.15 61.54 L476.17 63.09 L478.18 64.7 L480.19 66.35 L482.2 68.04 L484.21 69.79 L486.22 71.57 L488.23 73.41 L490.24 75.29 L492.26 77.21 L494.27 79.18 L496.28 81.19 L498.29 83.24 L500.3 85.34 L502.31 87.48 L504.32 89.67 L506.33 91.89 L508.35 94.16 L510.36 96.48 L512.37 98.83 L514.38 101.22 L516.39 103.66 L518.4 106.13 L520.41 108.65 L522.42 111.2 L524.44 113.79 L526.45 116.42 L528.46 119.09 L530.47 121.8 L532.48 124.55 L534.49 127.33 L536.5 130.15 L538.51 133 L540.53 135.89 L542.54 138.82 L544.55 141.78 L546.56 144.78 L548.57 147.8 L550.58 150.87 L552.59 153.96 L554.6 157.09 L556.62 160.25 L558.63 163.44 L560.64 166.66 L562.65 169.91 L564.66 173.19 L566.67 176.5 L568.68 179.84 L570.69 183.21 L572.71 186.6 L574.72 190.03 L576.73 193.48 L578.74 196.95 L580.75 200.45 L582.76 203.98 L584.77 207.53 L586.78 211.1 L588.8 214.7 L590.81 218.32 L592.82 221.96 L594.83 225.63 L596.84 229.31 L598.85 233.02 L600.86 236.74 L602.87 240.49 L604.89 244.25 L606.9 248.03 L608.91 251.83 L610.92 255.65 L612.93 259.48 L614.94 263.33 L616.95 267.19 L618.96 271.07 L620.98 274.96 L622.99 278.86 L625 282.78 L627.01 286.71 L629.02 290.65 L631.03 294.6 L633.04 298.56 L635.05 302.53 L637.07 306.51 L639.08 310.5 L641.09 314.49 L643.1 318.5 L645.11 322.5 L647.12 326.52 L649.13 330.54 L651.14 334.56 L653.16 338.59 L655.17 342.62 L657.18 346.66 L659.19 350.69 L661.2 354.73 L663.21 358.77 L665.22 362.8 L667.23 366.84 L669.25 370.88 L671.26 374.91 L673.27 378.94 L675.28 382.97 L677.29 386.99 L679.3 391.01 L681.31 395.03 L683.32 399.04 L685.34 403.04 L687.35 407.03 L689.36 411.02 L691.37 415 L693.38 418.97 L695.39 422.93 L697.4 426.88 L699.41 430.82 L701.43 434.75 L703.44 438.67 L705.45 442.57 L707.46 446.47 L709.47 450.34 L711.48 454.21 L713.49 458.05 L715.5 461.88 L717.52 465.7 L719.53 469.5 L721.54 473.28 L723.55 477.04 L725.56 480.79 L727.57 484.51 L729.58 488.22 L731.59 491.9 L733.61 495.57 L735.62 499.21 L737.63 502.83 L739.64 506.43 L741.65 510 L743.66 513.55 L745.67 517.08 L747.68 520.58 L749.7 524.06 L751.71 527.5 L753.72 530.93 L755.73 534.32 L757.74 537.69 L759.75 541.03 L761.76 544.34 L763.77 547.62 L765.79 550.87 L767.8 554.09 L769.81 557.28 L771.82 560.44 L773.83 563.57 L775.84 566.66 L777.85 569.73 L779.86 572.76 L781.88 575.75 L783.89 578.71 L785.9 581.64 L787.91 584.53 L789.92 587.38 L791.93 590.2 L793.94 592.98 L795.95 595.73 L797.97 598.44 L799.98 601.11 L801.99 603.74 L804 606.33 L806.01 608.89 L808.02 611.4 L810.03 613.87 L812.04 616.31 L814.06 618.7 L816.07 621.06 L818.08 623.37 L820.09 625.64 L822.1 627.86 L824.11 630.05 L826.12 632.19 L828.13 634.29 L830.15 636.34 L832.16 638.36 L834.17 640.32 L836.18 642.25 L838.19 644.12 L840.2 645.96 L842.21 647.74 L844.22 649.49 L846.24 651.18 L848.25 652.83 L850.26 654.44 L852.27 655.99 L854.28 657.5 L856.29 658.97 L858.3 660.38 L860.31 661.75 L862.33 663.07 L864.34 664.34 L866.35 665.56 L868.36 666.74 L870.37 667.86 L872.38 668.94 L874.39 669.97 L876.4 670.95 L878.42 671.88 L880.43 672.76 L882.44 673.59 L884.45 674.37 L886.46 675.11 L888.47 675.79 L890.48 676.42 L892.49 677 L894.51 677.53 L896.52 678.01 L898.53 678.44 L900.54 678.82 L902.55 679.15 L904.56 679.43 L906.57 679.66 L908.58 679.84 L910.6 679.96 L912.61 680.04 L914.62 680.06 L916.63 680.04 L918.64 679.96 L920.65 679.84 L922.66 679.66 L924.67 679.43 L926.69 679.15 L928.7 678.82 L930.71 678.44 L932.72 678.01 L934.73 677.53 L936.74 677 L938.75 676.42 L940.76 675.79 L942.78 675.11 L944.79 674.37 L946.8 673.59 L948.81 672.76 L950.82 671.88 L952.83 670.95 L954.84 669.97 L956.85 668.94 L958.87 667.86 L960.88 666.74 L962.89 665.56 L964.9 664.34 L966.91 663.07 L968.92 661.75 L970.93 660.38 L972.94 658.96 L974.96 657.5 L976.97 655.99 L978.98 654.44 L980.99 652.83 L983 651.18 L985.01 649.49 L987.02 647.74 L989.03 645.96 L991.05 644.12 L993.06 642.24 L995.07 640.32 L997.08 638.35 L999.09 636.34 L1001.1 634.29 L1003.11 632.19 L1005.12 630.05 L1007.14 627.86 L1009.15 625.63 L1011.16 623.37 L1013.17 621.05 L1015.18 618.7 L1017.19 616.31 L1019.2 613.87 L1021.21 611.4 L1023.23 608.88 L1025.24 606.33 L1027.25 603.74 L1029.26 601.11 L1031.27 598.44 L1033.28 595.73 L1035.29 592.98 L1037.3 590.2 L1039.32 587.38 L1041.33 584.53 L1043.34 581.63 L1045.35 578.71 L1047.36 575.75 L1049.37 572.75 L1051.38 569.72 L1053.39 566.66 L1055.41 563.57 L1057.42 560.44 L1059.43 557.28 L1061.44 554.09 L1063.45 550.87 L1065.46 547.62 L1067.47 544.34 L1069.48 541.03 L1071.5 537.69 L1073.51 534.32 L1075.52 530.92 L1077.53 527.5 L1079.54 524.05 L1081.55 520.58 L1083.56 517.08 L1085.57 513.55 L1087.59 510 L1089.6 506.43 L1091.61 502.83 L1093.62 499.21 L1095.63 495.57 L1097.64 491.9 L1099.65 488.22 L1101.66 484.51 L1103.68 480.79 L1105.69 477.04 L1107.7 473.28 L1109.71 469.5 L1111.72 465.7 L1113.73 461.88 L1115.74 458.05 L1117.75 454.2 L1119.77 450.34 L1121.78 446.46 L1123.79 442.57 L1125.8 438.67 L1127.81 434.75 L1129.82 430.82 L1131.83 426.88 L1133.84 422.93 L1135.86 418.97 L1137.87 415 L1139.88 411.02 L1141.89 407.03 L1143.9 403.04 L1145.91 399.03 L1147.92 395.02 L1149.93 391.01 L1151.95 386.99 L1153.96 382.97 L1155.97 378.94 L1157.98 374.91 L1159.99 370.87 L1162 366.84 L1164.01 362.8 L1166.02 358.76" stroke="#000" stroke-width="6.94"/>
<circle cx="960.65" cy="660.31" r="5.2" fill="#f00" stroke="#000" stroke-width="1.8"/>
</g>
<g stroke="#000" stroke-width="2.78" fill="none" stroke-linecap="square"><path d="M130.8 5.5 V699.9"/><path d="M130.8 699.9 H1195.3999999999999"/></g>
<text x="152.85" y="726.6" font-size="23.52">0</text>
<text x="305.72 319.97" y="726.6" font-size="23.52">10</text>
<text x="465.6 480.02" y="726.6" font-size="23.52">20</text>
<text x="625.97 640.07" y="726.6" font-size="23.52">30</text>
<text x="785.99 800.12" y="726.6" font-size="23.52">40</text>
<text x="945.96 960.17" y="726.6" font-size="23.52">50</text>
<text x="1106.09 1120.22" y="726.6" font-size="23.52">60</text>
<text x="83.41 97.27 104.59" y="30" font-size="23.52">0.0</text>
<text transform="translate(73.59 183.69) scale(1.216 1.099)" x="-6.87" y="7.82" font-size="23.52">−</text>
<text x="83.41 97.27 104.51" y="190.65" font-size="23.52">0.5</text>
<text transform="translate(73.59 344.34) scale(1.216 1.099)" x="-6.87" y="7.82" font-size="23.52">−</text>
<text x="83.29 97.27 104.59" y="351.3" font-size="23.52">1.0</text>
<text transform="translate(73.59 504.99) scale(1.216 1.099)" x="-6.87" y="7.82" font-size="23.52">−</text>
<text x="83.29 97.27 104.51" y="511.95" font-size="23.52">1.5</text>
<text transform="translate(73.59 665.64) scale(1.216 1.099)" x="-6.87" y="7.82" font-size="23.52">−</text>
<text x="83.12 97.27 104.59" y="672.6" font-size="23.52">2.0</text>
<path d="M728.9 427.6 L829.2 319" stroke="#c9c9c9" stroke-width="2.1" fill="none"/>
<rect x="716.0" y="39.8" width="480.6" height="278.5" fill="#fff"/>
<g stroke="#000" stroke-width="2.0" fill="none">
<path d="M770.6 39.8 V318.3"/>
<path d="M841.85 39.8 V318.3"/>
<path d="M913.1 39.8 V318.3"/>
<path d="M984.35 39.8 V318.3"/>
<path d="M1055.6 39.8 V318.3"/>
<path d="M1126.85 39.8 V318.3"/>
<path d="M716.0 75 H1196.6"/>
<path d="M716.0 112 H1196.6"/>
<path d="M716.0 148 H1196.6"/>
<path d="M716.0 185 H1196.6"/>
<path d="M716.0 221 H1196.6"/>
<path d="M716.0 258 H1196.6"/>
<path d="M716.0 294 H1196.6"/>
</g>
<g clip-path="url(#cu)" fill="none" stroke-linejoin="round">
<path d="M818 61.5 L841.5 78.4 L913.2 120.9 L1000 172.5 L1029.2 190 L1055.5 205.2 L1080.8 220.3 L1091.4 227.2 L1092.6 229.5 L1091.5 231.3 L1088.9 231.6 L1076.7 225.4 L1073.7 228.4 L1070.5 228.6 L1065.1 224.9 L1061.6 227.6 L1058.5 227.6 L1054.5 225.4 L1051 226.9 L1047.9 225.9 L1043.4 228.4 L1039.3 231.5 L1038.3 234.5 L1039.3 239.5 L1042.4 244.6 L1047.4 249.7 L1051.5 254.7 L1057.5 259.8 L1066.6 266.8 L1078.5 274.9 L1100.1 291.7 L1121.7 308.5 L1133.7 316.9 L1150 329 L1125 329 L1109.7 316.9 L1078.5 296.5 L1049.7 277.3 L1020.9 255.7 L992 236.5 L959.56 211.97 L930.78 191.59 L914.38 178.88 L889.27 161.38 L867.08 144.87 L842.99 122.67 L831.33 110.11 L821.89 97.54 L816.32 86.18 L813.97 80.03 L812.99 68.14 L813.5 64.5Z" fill="#009AFA" stroke="#009AFA" stroke-width="1.2" stroke-linejoin="round"/>
<circle cx="813.09" cy="68.13" r="2.3" fill="#009AFA"/>
<circle cx="813.5" cy="73.11" r="2.3" fill="#009AFA"/>
<circle cx="813.92" cy="78.09" r="2.3" fill="#009AFA"/>
<circle cx="814.98" cy="82.33" r="2.3" fill="#009AFA"/>
<circle cx="816.74" cy="86.79" r="2.3" fill="#009AFA"/>
<circle cx="818.94" cy="91.28" r="2.3" fill="#009AFA"/>
<circle cx="821.15" cy="95.77" r="2.3" fill="#009AFA"/>
<circle cx="823.61" cy="99.64" r="2.3" fill="#009AFA"/>
<circle cx="826.61" cy="103.64" r="2.3" fill="#009AFA"/>
<circle cx="829.61" cy="107.64" r="2.3" fill="#009AFA"/>
<circle cx="832.62" cy="111.35" r="2.3" fill="#009AFA"/>
<circle cx="836.02" cy="115.01" r="2.3" fill="#009AFA"/>
<circle cx="839.42" cy="118.67" r="2.3" fill="#009AFA"/>
<circle cx="842.83" cy="122.33" r="2.3" fill="#009AFA"/>
<circle cx="846.36" cy="125.63" r="2.3" fill="#009AFA"/>
<circle cx="850.04" cy="129.02" r="2.3" fill="#009AFA"/>
<circle cx="853.72" cy="132.41" r="2.3" fill="#009AFA"/>
<circle cx="857.39" cy="135.8" r="2.3" fill="#009AFA"/>
<circle cx="861.07" cy="139.19" r="2.3" fill="#009AFA"/>
<circle cx="864.75" cy="142.57" r="2.3" fill="#009AFA"/>
<circle cx="868.36" cy="145.69" r="2.3" fill="#009AFA"/>
<circle cx="872.37" cy="148.68" r="2.3" fill="#009AFA"/>
<circle cx="876.39" cy="151.66" r="2.3" fill="#009AFA"/>
<circle cx="880.4" cy="154.65" r="2.3" fill="#009AFA"/>
<circle cx="884.41" cy="157.63" r="2.3" fill="#009AFA"/>
<circle cx="888.42" cy="160.62" r="2.3" fill="#009AFA"/>
<circle cx="892.44" cy="163.47" r="2.3" fill="#009AFA"/>
<circle cx="896.55" cy="166.33" r="2.3" fill="#009AFA"/>
<circle cx="900.65" cy="169.19" r="2.3" fill="#009AFA"/>
<circle cx="904.75" cy="172.05" r="2.3" fill="#009AFA"/>
<circle cx="908.85" cy="174.91" r="2.3" fill="#009AFA"/>
<circle cx="912.95" cy="177.77" r="2.3" fill="#009AFA"/>
<path d="M685.1 63.4 L694.13 69.03 L703.15 74.65 L712.18 80.27 L721.2 85.89 L730.23 91.5 L739.25 97.1 L748.28 102.7 L757.3 108.3 L766.32 113.89 L775.35 119.49 L784.38 125.08 L793.4 130.67 L802.43 136.26 L811.45 141.84 L820.48 147.42 L829.5 152.99 L838.53 158.56 L847.55 164.12 L856.58 169.68 L865.6 175.23 L874.63 180.78 L883.65 186.32 L892.68 191.85 L901.7 197.38 L910.73 202.91 L919.75 208.43 L928.77 213.94 L937.8 219.45 L946.82 224.95 L955.85 230.45 L964.88 235.94 L973.9 241.43 L982.93 246.91 L991.95 252.38 L1000.98 257.85 L1010 263.31 L1019.03 268.76 L1028.05 274.21 L1037.08 279.65 L1046.1 285.09 L1055.13 290.52 L1064.15 295.94 L1073.18 301.36 L1082.2 306.77 L1091.22 312.17 L1100.25 317.57 L1109.27 322.96 L1118.3 328.34 L1127.32 333.72 L1136.35 339.09 L1145.38 344.45 L1154.4 349.81 L1163.43 355.16 L1172.45 360.5 L1181.48 365.84 L1190.5 371.16 L1199.53 376.48 L1208.55 381.8 L1217.58 387.1 L1226.6 392.4" stroke="#E36F47" stroke-width="2.78" stroke-dasharray="10.28 4.44" stroke-dashoffset="11.5"/>
<path d="M685.1 59.02 L694.13 64.65 L703.15 70.27 L712.18 75.89 L721.2 81.51 L730.23 87.12 L739.25 92.72 L748.28 98.32 L757.3 103.92 L766.32 109.51 L775.35 115.11 L784.38 120.7 L793.4 126.29 L802.43 131.88 L811.45 137.46 L820.48 143.04 L829.5 148.61 L838.53 154.18 L847.55 159.74 L856.58 165.3 L865.6 170.85 L874.63 176.4 L883.65 181.94 L892.68 187.47 L901.7 193 L910.73 198.53 L919.75 204.05 L928.77 209.56 L937.8 215.07 L946.82 220.57 L955.85 226.07 L964.88 231.56 L973.9 237.05 L982.93 242.53 L991.95 248 L1000.98 253.47 L1010 258.93 L1019.03 264.38 L1028.05 269.83 L1037.08 275.27 L1046.1 280.71 L1055.13 286.14 L1064.15 291.56 L1073.18 296.98 L1082.2 302.39 L1091.22 307.79 L1100.25 313.19 L1109.27 318.58 L1118.3 323.96 L1127.32 329.34 L1136.35 334.71 L1145.38 340.07 L1154.4 345.43 L1163.43 350.78 L1172.45 356.12 L1181.48 361.46 L1190.5 366.78 L1199.53 372.1 L1208.55 377.42 L1217.58 382.72 L1226.6 388.02" stroke="#3EA44E" stroke-width="2.78" stroke-dasharray="10.28 4.44" stroke-dashoffset="11.5"/>
<path d="M685.1 37.31 L694.13 42.93 L703.15 48.56 L712.18 54.17 L721.2 59.79 L730.23 65.4 L739.25 71 L748.28 76.6 L757.3 82.2 L766.32 87.79 L775.35 93.38 L784.38 98.98 L793.4 104.56 L802.43 110.14 L811.45 115.72 L820.48 121.29 L829.5 126.86 L838.53 132.42 L847.55 137.98 L856.58 143.53 L865.6 149.08 L874.63 154.62 L883.65 160.15 L892.68 165.68 L901.7 171.21 L910.73 176.73 L919.75 182.24 L928.77 187.75 L937.8 193.25 L946.82 198.75 L955.85 204.24 L964.88 209.73 L973.9 215.21 L982.93 220.68 L991.95 226.15 L1000.98 231.61 L1010 237.07 L1019.03 242.52 L1028.05 247.96 L1037.08 253.4 L1046.1 258.83 L1055.13 264.25 L1064.15 269.67 L1073.18 275.08 L1082.2 280.49 L1091.22 285.89 L1100.25 291.28 L1109.27 296.66 L1118.3 302.04 L1127.32 307.41 L1136.35 312.78 L1145.38 318.13 L1154.4 323.48 L1163.43 328.83 L1172.45 334.17 L1181.48 339.5 L1190.5 344.82 L1199.53 350.13 L1208.55 355.44 L1217.58 360.74 L1226.6 366.03" stroke="#C371D2" stroke-width="2.78" stroke-dasharray="10.28 4.44" stroke-dashoffset="11.5"/>
<path d="M685.1 105.38 L694.13 111.01 L703.15 116.63 L712.18 122.25 L721.2 127.86 L730.23 133.47 L739.25 139.08 L748.28 144.68 L757.3 150.27 L766.32 155.87 L775.35 161.45 L784.38 167.03 L793.4 172.61 L802.43 178.19 L811.45 183.75 L820.48 189.32 L829.5 194.87 L838.53 200.43 L847.55 205.98 L856.58 211.52 L865.6 217.06 L874.63 222.59 L883.65 228.12 L892.68 233.64 L901.7 239.15 L910.73 244.66 L919.75 250.17 L928.77 255.67 L937.8 261.16 L946.82 266.65 L955.85 272.13 L964.88 277.61 L973.9 283.08 L982.93 288.55 L991.95 294 L1000.98 299.46 L1010 304.9 L1019.03 310.34 L1028.05 315.78 L1037.08 321.21 L1046.1 326.63 L1055.13 332.04 L1064.15 337.45 L1073.18 342.86 L1082.2 348.25 L1091.22 353.64 L1100.25 359.02 L1109.27 364.4 L1118.3 369.77 L1127.32 375.13 L1136.35 380.49 L1145.38 385.84 L1154.4 391.18 L1163.43 396.51 L1172.45 401.84 L1181.48 407.16 L1190.5 412.48 L1199.53 417.78 L1208.55 423.08 L1217.58 428.37 L1226.6 433.66" stroke="#000" stroke-width="6.94"/>
</g>
<g stroke="#000" stroke-width="2.78" fill="none" stroke-linecap="square"><path d="M716.0 41.199999999999996 V318.3"/><path d="M716.0 318.3 H1195.6999999999998"/></g>
<text x="739.07 753.16 767.02 774.34 788.47" y="344.6" font-size="23.52">34.00</text>
<text x="810.32 824.41 838.27 845.3 859.63" y="344.6" font-size="23.52">34.25</text>
<text x="881.57 895.66 909.52 916.76 930.97" y="344.6" font-size="23.52">34.50</text>
<text x="952.82 966.91 980.77 988.05 1002.13" y="344.6" font-size="23.52">34.75</text>
<text x="1024.07 1038.08 1052.02 1059.34 1073.47" y="344.6" font-size="23.52">35.00</text>
<text x="1095.32 1109.33 1123.27 1130.3 1144.63" y="344.6" font-size="23.52">35.25</text>
<text transform="translate(646.27 77.04) scale(1.216 1.099)" x="-6.87" y="7.82" font-size="23.52">−</text>
<text x="655.96 669.94 676.97 691.39" y="84" font-size="23.52">1.26</text>
<text transform="translate(646.27 113.54) scale(1.216 1.099)" x="-6.87" y="7.82" font-size="23.52">−</text>
<text x="655.96 669.94 676.97 691.39" y="120.5" font-size="23.52">1.28</text>
<text transform="translate(646.27 150.04) scale(1.216 1.099)" x="-6.87" y="7.82" font-size="23.52">−</text>
<text x="655.96 669.94 677.3 691.39" y="157" font-size="23.52">1.30</text>
<text transform="translate(646.27 186.54) scale(1.216 1.099)" x="-6.87" y="7.82" font-size="23.52">−</text>
<text x="655.96 669.94 677.3 691.1" y="193.5" font-size="23.52">1.32</text>
<text transform="translate(646.27 223.04) scale(1.216 1.099)" x="-6.87" y="7.82" font-size="23.52">−</text>
<text x="655.96 669.94 677.3 691.39" y="230" font-size="23.52">1.34</text>
<text transform="translate(646.27 259.54) scale(1.216 1.099)" x="-6.87" y="7.82" font-size="23.52">−</text>
<text x="655.96 669.94 677.3 691.39" y="266.5" font-size="23.52">1.36</text>
<text transform="translate(646.27 296.04) scale(1.216 1.099)" x="-6.87" y="7.82" font-size="23.52">−</text>
<text x="655.96 669.94 677.3 691.39" y="303" font-size="23.52">1.38</text>
<rect x="701.5" y="419.9" width="27" height="48.3" fill="none" stroke="#c9c9c9" stroke-width="1.9"/>
<g stroke="#000" stroke-width="2.0" fill="none">
<path d="M197.3 387.3 V665.0"/>
<path d="M272.53 387.3 V665.0"/>
<path d="M347.76 387.3 V665.0"/>
<path d="M422.99 387.3 V665.0"/>
<path d="M498.22 387.3 V665.0"/>
<path d="M573.45 387.3 V665.0"/>
<path d="M648.68 387.3 V665.0"/>
<path d="M183.6 389 H663.7"/>
<path d="M183.6 454 H663.7"/>
<path d="M183.6 520 H663.7"/>
<path d="M183.6 585 H663.7"/>
<path d="M183.6 651 H663.7"/>
</g>
<g clip-path="url(#cl)" fill="none" stroke-linejoin="round" stroke-linecap="round">
<path d="M455.7 552 455.7 552 455.7 552 455.7 552 455.6 552 455.6 551.9 455.6 551.9 455.6 551.9 455.6 551.9 455.6 551.9 455.6 551.9 455.6 551.9 455.6 551.9 455.6 551.9 455.6 551.9 455.6 551.8 455.6 551.8 455.6 551.8 455.6 551.8 455.6 551.8 455.7 551.8 455.7 551.8 455.7 551.8 455.7 551.8 455.7 551.8 455.8 551.7 455.8 551.7 455.8 551.7 455.8 551.7 455.9 551.7 455.9 551.7 455.9 551.7 455.9 551.7 455.9 551.7 456 551.7 456 551.7 456 551.7 456 551.7 456 551.7 456.1 551.7 456.1 551.7 456.1 551.7 456.2 551.7 456.2 551.7 456.2 551.7 456.3 551.8 456.3 551.8 456.4 551.8 456.4 551.8 456.5 551.9 456.5 551.9 456.5 552 456.6 552 456.6 552.1 456.7 552.1 456.7 552.2 456.8 552.2 456.8 552.3 456.9 552.4 456.9 552.4 457 552.5 457 552.6 457.1 552.7 457.1 552.7 457.2 552.8 457.2 552.9 457.3 553 457.3 553.1 457.4 553.2 457.4 553.3 457.4 553.3 457.5 553.4 457.5 553.5 457.5 553.6 457.6 553.7 457.6 553.8 457.6 553.9 457.6 554 457.6 554.1 457.6 554.2 457.6 554.3 457.6 554.4 457.6 554.4 457.6 554.5 457.6 554.6 457.6 554.7 457.6 554.8 457.6 554.8 457.6 554.9 457.5 554.9 457.5 555 457.5 555.1 457.4 555.1 457.4 555.1 457.3 555.2 457.3 555.2 457.2 555.2 457.1 555.3 457.1 555.3 457 555.3 456.9 555.3 456.9 555.3 456.8 555.3 456.7 555.3 456.6 555.2 456.5 555.2 456.5 555.2 456.4 555.1 456.3 555.1 456.2 555 456.1 555 456 554.9 455.9 554.8 455.8 554.8 455.7 554.7 455.6 554.6 455.5 554.5 455.4 554.4 455.3 554.3 455.2 554.2 455.1 554.1 455 554 454.9 553.9 454.8 553.7 454.8 553.6 454.7 553.5 454.6 553.4 454.5 553.2 454.5 553.1 454.4 553 454.3 552.8 454.3 552.7 454.2 552.6 454.2 552.4 454.1 552.3 454.1 552.2 454.1 552 454.1 551.9 454 551.8 454 551.6 454 551.5 454 551.4 454 551.3 454.1 551.2 454.1 551.1 454.1 551 454.2 550.9 454.2 550.8 454.3 550.8 454.3 550.7 454.4 550.6 454.5 550.6 454.6 550.5 454.7 550.5 454.8 550.5 454.9 550.5 455 550.4 455.2 550.4 455.3 550.5 455.4 550.5 455.6 550.5 455.7 550.5 455.9 550.6 456.1 550.7 456.2 550.7 456.4 550.8 456.6 550.9 456.8 551 457 551.1 457.2 551.2 457.4 551.4 457.6 551.5 457.8 551.7 458 551.8 458.2 552 458.4 552.2 458.6 552.3 458.8 552.5 459.1 552.7 459.3 553 459.5 553.2 459.7 553.4 459.9 553.6 460.1 553.9 460.3 554.1 460.5 554.4 460.7 554.6 460.9 554.9 461.1 555.1 461.3 555.4 461.5 555.7 461.7 555.9 461.9 556.2 462 556.5 462.2 556.7 462.3 557 462.5 557.3 462.6 557.5 462.7 557.8 462.9 558.1 463 558.3 463.1 558.6 463.2 558.8 463.3 559.1 463.3 559.3 463.4 559.5 463.4 559.8 463.5 560 463.5 560.2 463.5 560.4 463.5 560.6 463.5 560.8 463.5 560.9 463.5 561.1 463.5 561.2 463.4 561.4 463.4 561.5 463.3 561.6 463.2 561.7 463.1 561.8 463 561.8 462.9 561.9 462.8 561.9 462.7 562 462.6 562 462.4 562 462.3 562 462.1 561.9 461.9 561.9 461.8 561.8 461.6 561.8 461.4 561.7 461.2 561.6 461 561.5 460.8 561.3 460.6 561.2 460.4 561 460.1 560.9 459.9 560.7 459.7 560.5 459.5 560.3 459.3 560.1 459 559.8 458.8 559.6 458.6 559.3 458.4 559.1 458.1 558.8 457.9 558.5 457.7 558.3 457.5 558 457.3 557.7 457.1 557.4 456.9 557.1 456.7 556.8 456.5 556.5 456.3 556.1 456.2 555.8 456 555.5 455.9 555.2 455.7 554.9 455.6 554.6 455.5 554.2 455.4 553.9 455.3 553.6 455.2 553.3 455.1 553 455 552.7 455 552.5 454.9 552.2 454.9 551.9 454.9 551.7 454.9 551.4 454.9 551.2 455 551 455 550.7 455.1 550.6 455.2 550.4 455.3 550.2 455.4 550 455.5 549.9 455.6 549.8 455.8 549.7 455.9 549.6 456.1 549.5 456.3 549.4 456.5 549.4 456.7 549.4 456.9 549.4 457.2 549.4 457.4 549.4 457.7 549.4 457.9 549.5 458.2 549.6 458.5 549.7 458.8 549.8 459.1 550 459.5 550.1 459.8 550.3 460.1 550.5 460.5 550.7 460.8 550.9 461.2 551.2 461.5 551.4 461.9 551.7 462.3 552 462.6 552.3 463 552.6 463.4 552.9 463.7 553.3 464.1 553.6 464.5 554 464.8 554.4 465.2 554.8 465.5 555.2 465.9 555.6 466.2 556 466.6 556.4 466.9 556.8 467.2 557.2 467.6 557.7 467.9 558.1 468.2 558.6 468.5 559 468.8 559.4 469 559.9 469.3 560.3 469.5 560.7 469.8 561.1 470 561.6 470.2 562 470.4 562.4 470.5 562.8 470.7 563.2 470.8 563.6 471 563.9 471.1 564.3 471.2 564.6 471.2 565 471.3 565.3 471.4 565.6 471.4 565.9 471.4 566.1 471.4 566.4 471.4 566.6 471.3 566.8 471.3 567 471.2 567.2 471.1 567.4 471 567.5 470.9 567.6 470.7 567.7 470.6 567.8 470.4 567.8 470.2 567.9 470 567.9 469.8 567.9 469.6 567.8 469.4 567.8 469.1 567.7 468.9 567.6 468.6 567.5 468.3 567.3 468 567.1 467.8 567 467.5 566.8 467.1 566.5 466.8 566.3 466.5 566 466.2 565.7 465.9 565.4 465.5 565.1 465.2 564.8 464.9 564.4 464.5 564.1 464.2 563.7 463.9 563.3 463.6 562.9 463.2 562.5 462.9 562 462.6 561.6 462.3 561.1 462 560.7 461.7 560.2 461.5 559.8 461.2 559.3 460.9 558.8 460.7 558.3 460.4 557.9 460.2 557.4 460 556.9 459.8 556.5 459.6 556 459.5 555.5 459.3 555.1 459.2 554.6 459.1 554.2 459 553.8 458.9 553.3 458.8 552.9 458.8 552.5 458.8 552.2 458.8 551.8 458.8 551.4 458.8 551.1 458.8 550.8 458.9 550.5 459 550.2 459.1 549.9 459.3 549.7 459.4 549.5 459.6 549.3 459.8 549.1 460 549 460.2 548.8 460.5 548.7 460.7 548.7 461 548.6 461.3 548.6 461.6 548.6 461.9 548.6 462.3 548.6 462.7 548.7 463 548.8 463.4 548.9 463.8 549.1 464.2 549.2 464.7 549.4 465.1 549.6 465.5 549.9 466 550.2 466.5 550.4 466.9 550.7 467.4 551.1 467.9 551.4 468.4 551.8 468.9 552.2 469.4 552.6 469.8 553 470.3 553.5 470.8 553.9 471.3 554.4 471.8 554.9 472.3 555.4 472.8 555.9 473.2 556.5 473.7 557 474.2 557.5 474.6 558.1 475.1 558.6 475.5 559.2 475.9 559.8 476.3 560.3 476.7 560.9 477.1 561.5 477.4 562 477.8 562.6 478.1 563.2 478.4 563.7 478.7 564.3 479 564.8 479.3 565.3 479.5 565.8 479.8 566.3 480 566.8 480.1 567.3 480.3 567.8 480.5 568.2 480.6 568.7 480.7 569.1 480.8 569.5 480.8 569.8 480.8 570.2 480.9 570.5 480.8 570.8 480.8 571.1 480.8 571.4 480.7 571.6 480.6 571.8 480.5 572 480.4 572.1 480.2 572.3 480 572.4 479.8 572.4 479.6 572.5 479.4 572.5 479.2 572.5 478.9 572.4 478.6 572.4 478.3 572.3 478 572.2 477.7 572 477.4 571.8 477 571.6 476.7 571.4 476.3 571.1 475.9 570.9 475.6 570.6 475.2 570.2 474.8 569.9 474.4 569.5 474 569.1 473.6 568.7 473.2 568.3 472.8 567.8 472.4 567.3 472 566.8 471.6 566.3 471.2 565.8 470.8 565.3 470.4 564.7 470.1 564.2 469.7 563.6 469.3 563 469 562.5 468.6 561.9 468.3 561.3 468 560.7 467.7 560.1 467.4 559.5 467.2 558.9 466.9 558.3 466.7 557.7 466.5 557.2 466.3 556.6 466.1 556 466 555.5 465.8 554.9 465.7 554.4 465.6 553.9 465.6 553.4 465.5 552.9 465.5 552.4 465.5 552 465.5 551.6 465.6 551.2 465.6 550.8 465.7 550.4 465.9 550.1 466 549.8 466.2 549.5 466.3 549.2 466.6 549 466.8 548.8 467 548.6 467.3 548.4 467.6 548.3 467.9 548.2 468.3 548.1 468.7 548.1 469 548.1 469.4 548.1 469.9 548.2 470.3 548.3 470.7 548.4 471.2 548.5 471.7 548.7 472.2 548.9 472.7 549.1 473.2 549.4 473.7 549.7 474.3 550 474.8 550.4 475.4 550.7 476 551.1 476.5 551.5 477.1 552 477.7 552.4 478.3 552.9 478.8 553.4 479.4 554 480 554.5 480.6 555.1 481.1 555.6 481.7 556.2 482.3 556.8 482.8 557.4 483.4 558.1 483.9 558.7 484.4 559.3 484.9 560 485.4 560.6 485.9 561.3 486.4 562 486.9 562.6 487.3 563.3 487.7 563.9 488.1 564.6 488.5 565.2 488.9 565.8 489.2 566.5 489.6 567.1 489.9 567.7 490.1 568.3 490.4 568.9 490.6 569.4 490.8 570 491 570.5 491.2 571 491.3 571.5 491.5 572 491.6 572.4 491.6 572.8 491.7 573.2 491.7 573.6 491.7 573.9 491.6 574.2 491.6 574.5 491.5 574.8 491.4 575 491.3 575.2 491.1 575.3 491 575.5 490.8 575.6 490.6 575.6 490.3 575.7 490.1 575.7 489.8 575.7 489.5 575.6 489.2 575.5 488.9 575.4 488.5 575.2 488.2 575.1 487.8 574.8 487.4 574.6 487 574.3 486.6 574 486.2 573.7 485.8 573.3 485.4 572.9 485 572.5 484.5 572.1 484.1 571.6 483.6 571.1 483.2 570.6 482.7 570.1 482.3 569.6 481.9 569 481.4 568.4 481 567.8 480.6 567.2 480.2 566.6 479.8 566 479.4 565.3 479 564.7 478.6 564 478.2 563.3 477.9 562.7 477.5 562 477.2 561.3 476.9 560.7 476.6 560 476.4 559.3 476.1 558.7 475.9 558 475.7 557.4 475.5 556.7 475.4 556.1 475.2 555.5 475.1 554.9 475 554.3 475 553.8 474.9 553.2 474.9 552.7 474.9 552.2 475 551.7 475 551.3 475.1 550.8 475.2 550.4 475.4 550.1 475.6 549.7 475.7 549.4 476 549.1 476.2 548.8 476.5 548.6 476.8 548.4 477.1 548.2 477.4 548.1 477.8 548 478.2 547.9 478.6 547.9 479 547.9 479.4 547.9 479.9 548 480.4 548.1 480.9 548.2 481.4 548.4 481.9 548.6 482.5 548.8 483 549 483.6 549.3 484.2 549.6 484.8 550 485.4 550.4 486 550.8 486.6 551.2 487.3 551.7 487.9 552.1 488.5 552.6 489.1 553.2 489.8 553.7 490.4 554.3 491 554.9 491.7 555.5 492.3 556.1 492.9 556.8 493.5 557.4 494.1 558.1 494.7 558.8 495.3 559.5 495.8 560.2 496.4 560.9 496.9 561.6 497.5 562.3 498 563 498.5 563.7 498.9 564.4 499.4 565.1 499.8 565.8 500.2 566.5 500.6 567.2 501 567.8 501.3 568.5 501.7 569.1 502 569.8 502.3 570.4 502.5 571 502.7 571.6 502.9 572.1 503.1 572.7 503.3 573.2 503.4 573.7 503.5 574.2 503.6 574.6 503.6 575 503.6 575.4 503.6 575.7 503.6 576.1 503.5 576.4 503.5 576.6 503.4 576.9 503.2 577.1 503.1 577.2 502.9 577.4 502.7 577.5 502.5 577.5 502.2 577.6 502 577.6 501.7 577.5 501.4 577.5 501.1 577.4 500.7 577.2 500.4 577 500 576.8 499.6 576.6 499.2 576.3 498.8 576 498.4 575.7 498 575.3 497.6 574.9 497.1 574.5 496.7 574.1 496.2 573.6 495.8 573.1 495.3 572.6 494.9 572 494.4 571.5 494 570.9 493.5 570.3 493.1 569.6 492.6 569 492.2 568.4 491.8 567.7 491.4 567 491 566.3 490.6 565.6 490.2 564.9 489.9 564.2 489.5 563.5 489.2 562.8 488.9 562.1 488.6 561.3 488.3 560.6 488 559.9 487.8 559.2 487.6 558.5 487.4 557.8 487.2 557.2 487.1 556.5 487 555.9 486.9 555.2 486.8 554.6 486.7 554 486.7 553.5 486.7 552.9 486.8 552.4 486.8 551.9 486.9 551.4 487 550.9 487.2 550.5 487.3 550.1 487.5 549.7 487.7 549.4 488 549.1 488.2 548.8 488.5 548.6 488.9 548.4 489.2 548.2 489.6 548 490 547.9 490.4 547.9 490.8 547.8 491.3 547.8 491.7 547.8 492.2 547.9 492.7 548 493.3 548.1 493.8 548.3 494.4 548.5 494.9 548.7 495.5 549 496.1 549.3 496.7 549.6 497.3 550 498 550.4 498.6 550.8 499.2 551.3 499.9 551.7 500.5 552.2 501.2 552.8 501.8 553.3 502.5 553.9 503.1 554.5 503.8 555.1 504.4 555.7 505.1 556.4 505.7 557.1 506.3 557.7 506.9 558.4 507.5 559.1 508.1 559.8 508.7 560.6 509.2 561.3 509.8 562 510.3 562.8 510.8 563.5 511.3 564.2 511.8 565 512.3 565.7 512.7 566.4 513.1 567.1 513.5 567.8 513.9 568.5 514.2 569.2 514.5 569.9 514.8 570.5 515.1 571.1 515.4 571.8 515.6 572.4 515.8 572.9 516 573.5 516.1 574 516.2 574.5 516.3 575 516.4 575.4 516.4 575.9 516.4 576.3 516.4 576.6 516.4 577 516.3 577.3 516.2 577.5 516.1 577.8 516 578 515.8 578.1 515.7 578.3 515.4 578.4 515.2 578.4 515 578.5 514.7 578.4 514.4 578.4 514.1 578.3 513.8 578.2 513.5 578.1 513.1 577.9 512.8 577.7 512.4 577.4 512 577.1 511.6 576.8 511.2 576.5 510.8 576.1 510.4 575.7 509.9 575.3 509.5 574.8 509.1 574.3 508.6 573.8 508.2 573.2 507.8 572.7 507.3 572.1 506.9 571.5 506.5 570.9 506.1 570.2 505.6 569.6 505.2 568.9 504.8 568.2 504.5 567.5 504.1 566.8 503.7 566.1 503.4 565.3 503.1 564.6 502.7 563.9 502.4 563.1 502.2 562.4 501.9 561.7 501.7 560.9 501.4 560.2 501.2 559.5 501.1 558.8 500.9 558.1 500.8 557.4 500.7 556.7 500.6 556.1 500.5 555.4 500.5 554.8 500.5 554.2 500.5 553.6 500.6 553 500.6 552.5 500.7 552 500.9 551.5 501 551 501.2 550.6 501.4 550.2 501.6 549.8 501.8 549.4 502.1 549.1 502.4 548.8 502.7 548.6 503.1 548.4 503.5 548.2 503.9 548 504.3 547.9 504.7 547.9 505.2 547.8 505.6 547.8 506.1 547.8 506.6 547.9 507.2 548 507.7 548.1 508.3 548.3 508.8 548.5 509.4 548.7 510 549 510.6 549.3 511.2 549.6 511.8 550 512.4 550.4 513.1 550.8 513.7 551.3 514.3 551.8 515 552.3 515.6 552.8 516.2 553.4 516.9 554 517.5 554.6 518.1 555.2 518.7 555.8 519.4 556.5 520 557.2 520.5 557.8 521.1 558.5 521.7 559.3 522.3 560 522.8 560.7 523.3 561.4 523.8 562.2 524.3 562.9 524.8 563.7 525.3 564.4 525.7 565.1 526.1 565.9 526.5 566.6 526.9 567.3 527.2 568 527.6 568.7 527.9 569.4 528.2 570.1 528.4 570.8 528.7 571.4 528.9 572 529.1 572.6 529.2 573.2 529.3 573.8 529.5 574.3 529.5 574.8 529.6 575.3 529.6 575.7 529.6 576.2 529.6 576.6 529.6 576.9 529.5 577.3 529.4 577.6 529.3 577.8 529.2 578.1 529 578.3 528.9 578.4 528.7 578.6 528.5 578.7 528.2 578.7 528 578.7 527.7 578.7 527.4 578.7 527.1 578.6 526.8 578.5 526.5 578.3 526.2 578.2 525.8 577.9 525.5 577.7 525.1 577.4 524.7 577.1 524.3 576.7 524 576.3 523.6 575.9 523.2 575.5 522.8 575 522.4 574.5 522 574 521.6 573.5 521.3 572.9 520.9 572.3 520.5 571.7 520.1 571.1 519.8 570.4 519.4 569.7 519.1 569.1 518.8 568.4 518.5 567.7 518.2 566.9 517.9 566.2 517.6 565.5 517.4 564.7 517.1 564 516.9 563.3 516.7 562.5 516.5 561.8 516.4 561 516.2 560.3 516.1 559.6 516 558.9 515.9 558.2 515.9 557.5 515.9 556.8 515.9 556.1 515.9 555.5 515.9 554.8 516 554.2 516.1 553.6 516.2 553.1 516.4 552.5 516.5 552 516.7 551.5 517 551 517.2 550.6 517.5 550.2 517.7 549.8 518 549.5 518.4 549.1 518.7 548.9 519.1 548.6 519.5 548.4 519.9 548.2 520.3 548 520.8 547.9 521.2 547.9 521.7 547.8 522.2 547.8 522.7 547.8 523.2 547.9 523.7 548 524.3 548.1 524.8 548.3 525.4 548.5 526 548.7 526.5 549 527.1 549.3 527.7 549.6 528.3 550 528.9 550.4 529.5 550.8 530 551.3 530.6 551.8 531.2 552.3 531.8 552.8 532.4 553.4 532.9 554 533.5 554.6 534 555.2 534.6 555.8 535.1 556.5 535.6 557.2 536.1 557.8 536.6 558.6 537.1 559.3 537.6 560 538 560.7 538.4 561.5 538.9 562.2 539.2 562.9 539.6 563.7 540 564.4 540.3 565.2 540.6 565.9 540.9 566.6 541.2 567.3 541.4 568.1 541.6 568.8 541.8 569.4 542 570.1 542.2 570.8 542.3 571.4 542.4 572 542.5 572.6 542.6 573.2 542.6 573.8 542.6 574.3 542.6 574.8 542.6 575.3 542.6 575.8 542.5 576.2 542.4 576.6 542.3 577 542.2 577.3 542.1 577.6 541.9 577.9 541.7 578.1 541.5 578.3 541.3 578.5 541.1 578.6 540.9 578.7 540.6 578.8 540.3 578.8 540.1 578.8 539.8 578.7 539.5 578.7 539.2 578.5 538.9 578.4 538.6 578.2 538.3 578 537.9 577.7 537.6 577.5 537.3 577.1 537 576.8 536.7 576.4 536.3 576 536 575.6 535.7 575.1 535.4 574.6 535.1 574.1 534.8 573.5 534.6 572.9 534.3 572.4 534 571.7 533.8 571.1 533.6 570.5 533.3 569.8 533.1 569.1 532.9 568.4 532.8 567.7 532.6 567 532.5 566.3 532.3 565.5 532.2 564.8 532.2 564.1 532.1 563.3 532 562.6 532 561.8 532 561.1 532 560.4 532.1 559.6 532.1 558.9 532.2 558.2 532.3 557.5 532.4 556.8 532.6 556.2 532.7 555.5 532.9 554.9 533.1 554.3 533.3 553.7 533.5 553.1 533.7 552.5 534 552 534.3 551.5 534.6 551.1 534.9 550.6 535.2 550.2 535.5 549.8 535.9 549.5 536.3 549.2 536.7 548.9 537.1 548.6 537.5 548.4 537.9 548.2 538.3 548.1 538.8 547.9 539.3 547.9 539.7 547.8 540.2 547.8 540.7 547.8 541.2 547.9 541.7 548 542.2 548.1 542.7 548.3 543.2 548.5 543.7 548.7 544.2 549 544.7 549.3 545.2 549.6 545.7 550 546.2 550.4 546.7 550.8 547.3 551.3 547.7 551.8 548.2 552.3 548.7 552.8 549.2 553.4 549.7 553.9 550.1 554.5 550.6 555.2 551 555.8 551.4 556.5 551.9 557.1 552.3 557.8 552.7 558.5 553 559.2 553.4 560 553.7 560.7 554.1 561.4 554.4 562.2 554.7 562.9 555 563.6 555.2 564.4 555.5 565.1 555.7 565.9 555.9 566.6 556.1 567.3 556.3 568 556.4 568.7 556.5 569.4 556.6 570 556.7 570.7 556.8 571.3 556.9 571.9 556.9 572.5 556.9 573 556.9 573.6 556.9 574.1 556.9 574.5 556.8 575 556.7 575.4 556.6 575.8 556.5 576.1 556.4 576.4 556.3 576.7 556.1 577 556 577.2 555.8 577.4 555.6 577.5 555.4 577.6 555.2 577.7 555 577.7 554.8 577.7 554.5 577.7 554.3 577.6 554 577.5 553.8 577.3 553.5 577.1 553.3 576.9 553 576.6 552.7 576.4 552.5 576 552.2 575.7 551.9 575.3 551.7 574.9 551.4 574.4 551.2 574 550.9 573.5 550.7 573 550.4 572.4 550.2 571.8 550 571.3 549.8 570.7 549.6 570 549.4 569.4 549.2 568.7 549 568.1 548.9 567.4 548.8 566.7 548.6 566 548.5 565.3 548.4 564.6 548.3 563.9 548.3 563.2 548.2 562.5 548.2 561.8 548.2 561.1 548.2 560.4 548.2 559.7 548.3 559 548.3 558.3 548.4 557.7 548.5 557 548.6 556.4 548.8 555.8 548.9 555.2 549.1 554.6 549.3 554 549.5 553.5 549.7 552.9 549.9 552.4 550.2 552 550.4 551.5 550.7 551.1 551 550.7 551.3 550.3 551.6 550 552 549.6 552.3 549.3 552.7 549.1 553 548.8 553.4 548.6 553.8 548.4 554.2 548.2 554.6 548.1 555 548 555.4 547.9 555.9 547.8 556.3 547.8 556.7 547.8 557.2 547.8 557.6 547.9 558.1 547.9 558.5 548 558.9 548.1 559.4 548.2 559.8 548.4 560.3 548.6 560.7 548.7 561.1 548.9 561.5 549.2 562 549.4 562.4 549.6 562.8 549.9 563.2 550.2 563.6 550.5 563.9 550.7 564.3 551 564.7 551.3 565 551.7 565.3 552 565.7 552.3 566 552.6 566.3 552.9 566.6 553.2 566.8 553.6 567.1 553.9 567.3 554.2 567.6 554.5 567.8 554.8 568 555.1 568.2 555.4 568.4 555.6 568.5 555.9 568.7 556.2 568.8 556.4 568.9 556.7 569 556.9 569.1 557.1 569.2 557.3 569.2 557.5 569.3 557.6 569.3 557.8 569.3 557.9 569.4 558.1 569.4 558.2 569.3 558.3 569.3 558.3 569.3 558.4 569.2 558.5 569.2 558.5 569.1 558.5 569.1 558.5 569 558.5 568.9 558.5 568.8 558.4 568.7 558.3 568.6 558.3 568.5 558.2 568.4 558.1 568.3 558 568.1 557.8 568 557.7 567.9 557.5 567.8 557.4 567.7 557.2 567.5 557 567.4 556.8 567.3 556.6 567.2 556.4 567.1 556.2 566.9 556 566.8 555.8 566.7 555.5 566.6 555.3 566.5 555.1 566.4 554.8 566.4 554.6 566.3 554.3 566.2 554.1 566.2 553.8 566.1 553.6 566.1 553.3 566 553.1 566 552.9 566 552.6 566 552.4 566 552.1 566 551.9 566 551.7 566 551.5 566.1 551.3 566.1 551 566.2 550.8 566.3 550.6 566.3 550.4 566.4 550.3 566.5 550.1 566.7 549.9 566.8 549.8 566.9 549.6 567.1 549.4 567.2 549.3 567.4 549.2 567.6 549 567.7 548.9 567.9 548.8 568.1 548.7 568.3 548.6 568.5 548.5 568.8 548.4 569 548.4 569.2 548.3 569.5 548.2 569.7 548.2 570 548.1 570.3 548.1 570.5 548 570.8 548 571.1 547.9 571.3 547.9 571.6 547.9 571.9 547.9 572.2 547.8 572.5 547.8 572.8 547.8 573.1 547.8 573.4 547.8 573.7 547.8 574 547.8 574.2 547.8 574.5 547.8 574.8 547.8 575.1 547.8 575.4 547.8 575.7 547.8 576 547.8 576.2 547.8 576.5 547.8 576.8 547.8 577.1 547.8 577.3 547.8 577.6 547.8 577.8 547.8 578.1 547.8 578.3 547.8 578.6 547.8 578.8 547.8 579 547.8 579.2 547.8 579.4 547.8 579.6 547.8 579.8 547.8 580 547.8 580.2 547.8 580.4 547.8 580.6 547.8 580.7 547.8 580.9 547.8 581 547.8 581.1 547.8 581.3 547.8 581.4 547.8 581.5 547.8 581.6 547.8" stroke="#009AFA" stroke-width="2.6"/>
<path d="M648.7 552 648.7 552 648.7 552 648.7 552 648.7 552 648.7 551.9 648.7 551.9 648.7 551.9 648.7 551.9 648.7 551.9 648.7 551.9 648.7 551.9 648.7 551.9 648.7 551.9 648.8 551.9 648.8 551.8 648.8 551.8 648.8 551.8 648.8 551.8 648.8 551.8 648.9 551.8 648.9 551.8 648.9 551.8 648.9 551.8 648.9 551.8 649 551.7 649 551.7 649 551.7 649 551.7 649 551.7 649.1 551.7 649.1 551.7 649.1 551.8 649.1 551.8 649.1 551.8 649.1 551.8 649.1 551.9 649.2 551.9 649.2 551.9 649.2 551.9 649.2 551.9 649.2 551.9 649.3 551.9 649.3 551.9 649.3 551.9 649.3 551.9 649.3 551.9 649.4 551.9 649.4 551.9 649.4 551.9 649.4 551.9 649.4 551.8 649.4 551.8 649.5 551.8 649.5 551.8 649.5 551.8 649.5 551.7 649.5 551.7 649.5 551.7 649.5 551.6 649.5 551.6 649.5 551.6 649.5 551.5 649.5 551.5 649.5 551.5 649.5 551.4 649.5 551.4 649.4 551.4 649.4 551.4 649.4 551.3 649.4 551.3 649.3 551.3 649.3 551.3 649.3 551.3 649.2 551.2 649.2 551.2 649.1 551.2 649.1 551.2 649 551.2 649 551.2 648.9 551.2 648.8 551.2 648.8 551.3 648.7 551.3 648.6 551.3 648.5 551.3 648.5 551.4 648.4 551.4 648.3 551.4 648.2 551.5 648.1 551.5 648 551.6 647.9 551.7 647.8 551.7 647.7 551.8 647.6 551.9 647.5 552 647.4 552.1 647.3 552.2 647.2 552.3 647.1 552.4 647 552.5 646.8 552.6 646.7 552.7 646.6 552.8 646.5 553 646.4 553.1 646.3 553.2 646.2 553.4 646.1 553.5 646 553.6 645.9 553.8 645.8 553.9 645.7 554.1 645.6 554.2 645.5 554.4 645.4 554.5 645.3 554.7 645.3 554.9 645.2 555 645.1 555.2 645 555.3 645 555.5 644.9 555.6 644.9 555.8 644.8 555.9 644.8 556.1 644.7 556.2 644.7 556.4 644.7 556.5 644.7 556.6 644.7 556.8 644.7 556.9 644.7 557 644.7 557.1 644.7 557.2 644.7 557.3 644.7 557.4 644.7 557.5 644.8 557.6 644.8 557.7 644.9 557.8 644.9 557.8 645 557.9 645.1 557.9 645.1 558 645.2 558 645.3 558 645.4 558 645.5 558 645.6 558 645.7 558 645.8 558 645.9 558 646 557.9 646.2 557.9 646.3 557.8 646.4 557.8 646.6 557.7 646.7 557.6 646.8 557.5 647 557.4 647.1 557.3 647.3 557.2 647.4 557.1 647.5 556.9 647.7 556.8 647.8 556.6 648 556.5 648.1 556.3 648.3 556.2 648.4 556 648.6 555.8 648.7 555.6 648.8 555.5 649 555.3 649.1 555.1 649.2 554.9 649.3 554.7 649.4 554.5 649.5 554.3 649.7 554.1 649.8 553.9 649.8 553.7 649.9 553.5 650 553.3 650.1 553.1 650.1 552.9 650.2 552.7 650.2 552.5 650.3 552.3 650.3 552.1 650.3 551.9 650.4 551.7 650.4 551.6 650.3 551.4 650.3 551.2 650.3 551.1 650.3 550.9 650.2 550.8 650.2 550.7 650.1 550.6 650 550.5 650 550.4 649.9 550.3 649.8 550.2 649.7 550.1 649.5 550.1 649.4 550 649.3 550 649.1 550 648.9 550 648.8 550 648.6 550 648.4 550 648.2 550 648 550.1 647.8 550.2 647.6 550.2 647.4 550.3 647.1 550.4 646.9 550.5 646.7 550.7 646.4 550.8 646.2 551 645.9 551.1 645.6 551.3 645.4 551.5 645.1 551.7 644.8 551.9 644.6 552.1 644.3 552.4 644 552.6 643.7 552.9 643.5 553.1 643.2 553.4 642.9 553.7 642.7 554 642.4 554.3 642.1 554.6 641.9 554.9 641.6 555.2 641.3 555.5 641.1 555.8 640.8 556.2 640.6 556.5 640.4 556.8 640.1 557.1 639.9 557.5 639.7 557.8 639.5 558.1 639.3 558.5 639.1 558.8 639 559.1 638.8 559.5 638.6 559.8 638.5 560.1 638.3 560.4 638.2 560.7 638.1 561 638 561.3 637.9 561.6 637.8 561.9 637.8 562.1 637.7 562.4 637.7 562.6 637.7 562.9 637.6 563.1 637.6 563.3 637.7 563.5 637.7 563.7 637.7 563.8 637.8 564 637.8 564.1 637.9 564.3 638 564.4 638.1 564.5 638.2 564.6 638.3 564.6 638.5 564.7 638.6 564.7 638.8 564.7 638.9 564.7 639.1 564.7 639.3 564.7 639.5 564.6 639.7 564.5 639.9 564.4 640.1 564.3 640.3 564.2 640.6 564.1 640.8 563.9 641 563.8 641.3 563.6 641.5 563.4 641.8 563.2 642.1 563 642.3 562.7 642.6 562.5 642.8 562.2 643.1 561.9 643.4 561.6 643.6 561.3 643.9 561 644.2 560.7 644.4 560.4 644.7 560 644.9 559.7 645.2 559.4 645.4 559 645.6 558.6 645.8 558.3 646.1 557.9 646.3 557.5 646.5 557.1 646.7 556.8 646.9 556.4 647 556 647.2 555.6 647.3 555.3 647.5 554.9 647.6 554.5 647.7 554.2 647.8 553.8 647.9 553.5 648 553.1 648 552.8 648.1 552.5 648.1 552.1 648.1 551.8 648.1 551.5 648.1 551.3 648.1 551 648 550.7 647.9 550.5 647.9 550.3 647.8 550.1 647.7 549.9 647.5 549.7 647.4 549.6 647.2 549.4 647 549.3 646.9 549.2 646.7 549.1 646.4 549 646.2 549 646 549 645.7 548.9 645.4 549 645.1 549 644.8 549 644.5 549.1 644.2 549.2 643.9 549.3 643.5 549.5 643.2 549.6 642.8 549.8 642.4 550 642.1 550.2 641.7 550.4 641.3 550.7 640.9 550.9 640.5 551.2 640.1 551.5 639.7 551.8 639.2 552.2 638.8 552.5 638.4 552.9 638 553.3 637.6 553.7 637.2 554.1 636.8 554.5 636.3 554.9 635.9 555.3 635.5 555.8 635.1 556.2 634.7 556.7 634.4 557.2 634 557.6 633.6 558.1 633.3 558.6 632.9 559.1 632.6 559.6 632.2 560 631.9 560.5 631.6 561 631.3 561.5 631 562 630.8 562.4 630.5 562.9 630.3 563.4 630.1 563.8 629.8 564.3 629.7 564.7 629.5 565.1 629.3 565.5 629.2 565.9 629.1 566.3 629 566.7 628.9 567.1 628.8 567.4 628.8 567.7 628.7 568 628.7 568.3 628.7 568.6 628.7 568.9 628.8 569.1 628.8 569.3 628.9 569.5 629 569.7 629.1 569.8 629.2 570 629.4 570.1 629.5 570.1 629.7 570.2 629.9 570.2 630.1 570.3 630.3 570.2 630.5 570.2 630.8 570.2 631 570.1 631.3 570 631.6 569.8 631.9 569.7 632.2 569.5 632.5 569.3 632.8 569.1 633.1 568.9 633.5 568.6 633.8 568.3 634.1 568 634.5 567.7 634.8 567.4 635.2 567 635.5 566.7 635.9 566.3 636.2 565.9 636.6 565.5 636.9 565 637.3 564.6 637.6 564.1 638 563.7 638.3 563.2 638.6 562.7 639 562.2 639.3 561.7 639.6 561.2 639.9 560.7 640.2 560.2 640.4 559.7 640.7 559.1 640.9 558.6 641.2 558.1 641.4 557.6 641.6 557.1 641.8 556.6 641.9 556.1 642.1 555.6 642.2 555.1 642.4 554.6 642.5 554.2 642.5 553.7 642.6 553.3 642.7 552.8 642.7 552.4 642.7 552 642.7 551.6 642.6 551.3 642.6 550.9 642.5 550.6 642.4 550.3 642.3 550 642.2 549.7 642 549.5 641.9 549.2 641.7 549 641.4 548.9 641.2 548.7 641 548.6 640.7 548.5 640.4 548.4 640.1 548.3 639.8 548.3 639.4 548.3 639.1 548.3 638.7 548.4 638.3 548.4 637.9 548.5 637.5 548.7 637.1 548.8 636.6 549 636.2 549.2 635.7 549.4 635.2 549.7 634.7 550 634.2 550.3 633.7 550.6 633.2 550.9 632.7 551.3 632.2 551.7 631.7 552.1 631.2 552.5 630.6 552.9 630.1 553.4 629.6 553.9 629.1 554.4 628.6 554.9 628 555.4 627.5 555.9 627 556.5 626.5 557 626 557.6 625.5 558.2 625.1 558.8 624.6 559.3 624.1 559.9 623.7 560.5 623.3 561.1 622.8 561.7 622.4 562.3 622.1 562.9 621.7 563.5 621.3 564.1 621 564.7 620.6 565.2 620.3 565.8 620.1 566.4 619.8 566.9 619.5 567.4 619.3 568 619.1 568.5 618.9 569 618.7 569.4 618.6 569.9 618.5 570.3 618.4 570.8 618.3 571.2 618.2 571.6 618.2 571.9 618.2 572.2 618.2 572.6 618.2 572.9 618.2 573.1 618.3 573.4 618.4 573.6 618.5 573.8 618.6 573.9 618.8 574.1 619 574.2 619.2 574.2 619.4 574.3 619.6 574.3 619.8 574.3 620.1 574.3 620.4 574.2 620.6 574.1 620.9 574 621.3 573.9 621.6 573.7 621.9 573.5 622.3 573.3 622.7 573 623 572.7 623.4 572.4 623.8 572.1 624.2 571.8 624.6 571.4 625 571 625.4 570.6 625.8 570.1 626.2 569.7 626.6 569.2 627 568.7 627.4 568.2 627.8 567.7 628.2 567.1 628.6 566.6 629 566 629.4 565.4 629.8 564.8 630.1 564.2 630.5 563.6 630.8 563 631.2 562.4 631.5 561.8 631.8 561.2 632.1 560.6 632.4 560 632.6 559.4 632.9 558.7 633.1 558.1 633.3 557.5 633.5 557 633.7 556.4 633.8 555.8 633.9 555.2 634 554.7 634.1 554.2 634.2 553.6 634.2 553.1 634.2 552.7 634.2 552.2 634.2 551.8 634.2 551.3 634.1 550.9 634 550.5 633.9 550.2 633.7 549.9 633.6 549.5 633.4 549.3 633.2 549 632.9 548.8 632.7 548.6 632.4 548.4 632.1 548.3 631.8 548.1 631.4 548.1 631.1 548 630.7 548 630.3 548 629.9 548 629.4 548.1 629 548.1 628.5 548.3 628 548.4 627.5 548.6 627 548.8 626.5 549 626 549.3 625.4 549.6 624.9 549.9 624.3 550.3 623.7 550.6 623.2 551 622.6 551.4 622 551.9 621.4 552.3 620.8 552.8 620.2 553.3 619.6 553.9 619 554.4 618.5 555 617.9 555.5 617.3 556.1 616.7 556.7 616.1 557.3 615.6 558 615 558.6 614.5 559.2 613.9 559.9 613.4 560.6 612.9 561.2 612.4 561.9 611.9 562.5 611.5 563.2 611 563.9 610.6 564.5 610.2 565.2 609.8 565.8 609.4 566.5 609 567.1 608.7 567.7 608.4 568.4 608.1 569 607.8 569.5 607.5 570.1 607.3 570.7 607.1 571.2 606.9 571.7 606.8 572.2 606.6 572.7 606.5 573.2 606.4 573.6 606.4 574 606.3 574.4 606.3 574.8 606.3 575.1 606.3 575.4 606.4 575.7 606.5 575.9 606.6 576.2 606.7 576.4 606.8 576.5 607 576.6 607.2 576.7 607.4 576.8 607.6 576.9 607.8 576.9 608.1 576.8 608.4 576.8 608.7 576.7 609 576.6 609.3 576.5 609.6 576.3 610 576.1 610.4 575.8 610.7 575.6 611.1 575.3 611.5 575 611.9 574.6 612.3 574.2 612.8 573.8 613.2 573.4 613.6 573 614 572.5 614.5 572 614.9 571.5 615.3 571 615.8 570.4 616.2 569.9 616.6 569.3 617 568.7 617.5 568.1 617.9 567.4 618.3 566.8 618.6 566.1 619 565.5 619.4 564.8 619.7 564.2 620.1 563.5 620.4 562.8 620.7 562.1 621 561.5 621.3 560.8 621.6 560.1 621.8 559.5 622 558.8 622.2 558.1 622.4 557.5 622.6 556.9 622.7 556.3 622.8 555.6 622.9 555.1 623 554.5 623 553.9 623.1 553.4 623.1 552.9 623 552.3 623 551.9 622.9 551.4 622.8 551 622.7 550.6 622.6 550.2 622.4 549.8 622.2 549.5 622 549.2 621.7 548.9 621.5 548.7 621.2 548.5 620.9 548.3 620.5 548.1 620.2 548 619.8 547.9 619.4 547.9 619 547.8 618.5 547.8 618.1 547.9 617.6 547.9 617.1 548 616.6 548.2 616.1 548.3 615.6 548.5 615 548.8 614.5 549 613.9 549.3 613.3 549.6 612.7 550 612.1 550.3 611.5 550.7 610.9 551.1 610.3 551.6 609.7 552.1 609 552.6 608.4 553.1 607.8 553.6 607.1 554.2 606.5 554.8 605.9 555.3 605.3 556 604.7 556.6 604.1 557.2 603.5 557.9 602.9 558.5 602.3 559.2 601.7 559.9 601.2 560.6 600.6 561.3 600.1 562 599.6 562.7 599.1 563.4 598.6 564.1 598.1 564.8 597.7 565.5 597.3 566.2 596.9 566.8 596.5 567.5 596.1 568.2 595.8 568.8 595.4 569.5 595.1 570.1 594.8 570.7 594.6 571.3 594.4 571.9 594.1 572.4 594 573 593.8 573.5 593.7 574 593.5 574.5 593.5 574.9 593.4 575.3 593.4 575.7 593.3 576.1 593.4 576.4 593.4 576.8 593.4 577 593.5 577.3 593.6 577.5 593.8 577.7 593.9 577.9 594.1 578 594.3 578.1 594.5 578.2 594.7 578.2 595 578.2 595.2 578.1 595.5 578.1 595.8 578 596.1 577.9 596.5 577.7 596.8 577.5 597.2 577.3 597.5 577 597.9 576.7 598.3 576.4 598.7 576.1 599.1 575.7 599.5 575.3 599.9 574.9 600.3 574.4 600.8 574 601.2 573.5 601.6 572.9 602.1 572.4 602.5 571.8 602.9 571.2 603.3 570.6 603.7 570 604.1 569.4 604.5 568.8 604.9 568.1 605.3 567.4 605.7 566.8 606 566.1 606.4 565.4 606.7 564.7 607 564 607.4 563.3 607.6 562.6 607.9 561.9 608.2 561.2 608.4 560.5 608.6 559.8 608.8 559.1 609 558.4 609.1 557.8 609.3 557.1 609.4 556.5 609.5 555.8 609.5 555.2 609.6 554.6 609.6 554 609.6 553.5 609.6 552.9 609.5 552.4 609.4 551.9 609.3 551.5 609.2 551 609 550.6 608.9 550.2 608.7 549.8 608.4 549.5 608.2 549.2 607.9 548.9 607.6 548.7 607.3 548.4 606.9 548.3 606.6 548.1 606.2 548 605.8 547.9 605.4 547.8 604.9 547.8 604.5 547.8 604 547.9 603.5 547.9 603 548 602.5 548.2 601.9 548.3 601.4 548.5 600.8 548.8 600.2 549 599.6 549.3 599 549.7 598.4 550 597.8 550.4 597.2 550.8 596.6 551.2 596 551.7 595.3 552.2 594.7 552.7 594.1 553.2 593.5 553.8 592.8 554.4 592.2 554.9 591.6 555.6 591 556.2 590.4 556.8 589.8 557.5 589.2 558.1 588.6 558.8 588.1 559.5 587.5 560.2 587 560.9 586.5 561.6 585.9 562.3 585.5 563 585 563.8 584.5 564.5 584.1 565.2 583.6 565.9 583.2 566.6 582.9 567.3 582.5 568 582.1 568.6 581.8 569.3 581.5 569.9 581.2 570.6 581 571.2 580.8 571.8 580.5 572.4 580.4 573 580.2 573.5 580.1 574 580 574.5 579.9 575 579.8 575.4 579.8 575.9 579.7 576.3 579.8 576.6 579.8 577 579.8 577.3 579.9 577.6 580 577.8 580.1 578 580.3 578.2 580.4 578.4 580.6 578.5 580.8 578.6 581 578.7 581.3 578.7 581.5 578.7 581.8 578.6 582.1 578.6 582.4 578.5 582.7 578.3 583 578.1 583.3 577.9 583.7 577.7 584 577.4 584.4 577.1 584.8 576.8 585.1 576.5 585.5 576.1 585.9 575.7 586.3 575.2 586.7 574.8 587.1 574.3 587.5 573.8 587.9 573.2 588.3 572.7 588.6 572.1 589 571.5 589.4 570.9 589.8 570.3 590.1 569.6 590.5 569 590.8 568.3 591.1 567.6 591.5 566.9 591.8 566.2 592 565.5 592.3 564.8 592.6 564.1 592.8 563.4 593.1 562.7 593.3 562 593.5 561.3 593.6 560.6 593.8 559.9 593.9 559.2 594 558.5 594.1 557.8 594.2 557.1 594.2 556.5 594.2 555.9 594.2 555.2 594.2 554.6 594.2 554 594.1 553.5 594 552.9 593.9 552.4 593.7 551.9 593.6 551.4 593.4 551 593.2 550.6 593 550.2 592.7 549.8 592.4 549.5 592.1 549.2 591.8 548.9 591.5 548.6 591.1 548.4 590.7 548.2 590.3 548.1 589.9 548 589.5 547.9 589 547.8 588.6 547.8 588.1 547.8 587.6 547.9 587.1 547.9 586.6 548 586 548.2 585.5 548.4 584.9 548.6 584.4 548.8 583.8 549.1 583.2 549.4 582.7 549.7 582.1 550.1 581.5 550.4 580.9 550.9 580.3 551.3 579.7 551.8 579.1 552.3 578.5 552.8 578 553.3 577.4 553.9 576.8 554.4 576.2 555 575.7 555.7 575.1 556.3 574.6 556.9 574 557.6 573.5 558.3 573 558.9 572.5 559.6 572 560.3 571.6 561 571.1 561.8 570.7 562.5 570.3 563.2 569.9 563.9 569.5 564.6 569.1 565.3 568.8 566 568.4 566.7 568.1 567.4 567.9 568.1 567.6 568.8 567.3 569.5 567.1 570.1 566.9 570.7 566.8 571.4 566.6 572 566.5 572.6 566.4 573.1 566.3 573.7 566.2 574.2 566.2 574.7 566.1 575.2 566.1 575.6 566.2 576 566.2 576.4 566.3 576.8 566.4 577.1 566.5 577.4 566.6 577.7 566.7 578 566.9 578.2 567 578.4 567.2 578.5 567.4 578.6 567.7 578.7 567.9 578.8 568.1 578.8 568.4 578.8 568.7 578.7 568.9 578.7 569.2 578.5 569.5 578.4 569.8 578.2 570.1 578 570.5 577.8 570.8 577.5 571.1 577.2 571.4 576.9 571.8 576.5 572.1 576.1 572.4 575.7 572.7 575.3 573.1 574.8 573.4 574.3 573.7 573.8 574 573.3 574.3 572.7 574.6 572.1 574.9 571.5 575.2 570.9 575.4 570.3 575.7 569.6 575.9 569 576.2 568.3 576.4 567.6 576.6 566.9 576.8 566.2 576.9 565.5 577.1 564.8 577.2 564.1 577.3 563.4 577.4 562.7 577.5 561.9 577.6 561.2 577.6 560.5 577.6 559.8 577.6 559.1 577.6 558.4 577.6 557.8 577.5 557.1 577.4 556.5 577.3 555.8 577.2 555.2 577 554.6 576.9 554 576.7 553.4 576.5 552.9 576.2 552.4 576 551.9 575.7 551.4 575.4 551 575.1 550.5 574.8 550.2 574.5 549.8 574.1 549.5 573.7 549.1 573.4 548.9 572.9 548.6 572.5 548.4 572.1 548.2 571.7 548.1 571.2 548 570.7 547.9 570.2 547.8 569.8 547.8 569.3 547.8 568.8 547.9 568.2 547.9 567.7 548.1 567.2 548.2 566.7 548.4 566.2 548.6 565.6 548.8 565.1 549.1 564.6 549.4 564 549.7 563.5 550.1 563 550.5 562.5 550.9 562 551.3 561.5 551.8 561 552.3 560.5 552.8 560 553.4 559.6 553.9 559.1 554.5 558.7 555.1 558.3 555.7 557.9 556.3 557.4 557 557.1 557.7 556.7 558.3 556.3 559 555.9 559.7 555.6 560.4 555.3 561.1 555 561.8 554.7 562.5 554.4 563.3 554.1 564 553.9 564.7 553.6 565.4 553.4 566.1 553.2 566.8 553 567.5 552.9 568.2 552.7 568.9 552.6 569.5 552.5 570.2 552.4 570.8 552.3 571.4 552.2 572 552.2 572.6 552.2 573.2 552.2 573.7 552.2 574.2 552.2 574.7 552.2 575.2 552.3 575.6 552.4 576.1 552.5 576.5 552.6 576.8 552.7 577.2 552.8 577.5 552.9 577.7 553.1 578 553.3 578.2 553.4 578.4 553.6 578.5 553.8 578.6 554 578.7 554.2 578.8 554.5 578.8 554.7 578.8 554.9 578.7 555.2 578.7 555.4 578.5 555.7 578.4 555.9 578.2 556.2 578 556.5 577.8 556.7 577.5 557 577.2 557.2 576.8 557.5 576.5 557.8 576.1 558 575.6 558.3 575.2 558.5 574.7 558.7 574.2 559 573.6 559.2 573.1 559.4 572.5 559.6 571.9 559.8 571.3 560 570.6 560.2 570 560.4 569.3 560.5 568.6 560.6 567.9 560.8 567.2 560.9 566.5 561 565.8 561.1 565.1 561.1 564.4 561.2 563.6 561.2 562.9 561.2 562.2 561.2 561.5 561.2 560.7 561.2 560 561.1 559.3 561 558.6 561 557.9 560.9 557.3 560.7 556.6 560.6 556 560.4 555.4 560.3 554.7 560.1 554.2 559.8 553.6 559.6 553.1 559.4 552.5 559.1 552 558.8 551.6 558.6 551.1 558.2 550.7 557.9 550.3 557.6 549.9 557.2 549.6 556.9 549.3 556.5 549 556.1 548.7 555.7 548.5 555.3 548.3 554.9 548.2 554.5 548 554 547.9 553.6 547.9 553.2 547.8 552.7 547.8 552.3 547.8 551.8 547.9 551.3 547.9 550.9 548 550.4 548.2 549.9 548.3 549.5 548.5 549 548.7 548.5 548.9 548.1 549.1 547.6 549.4 547.1 549.7 546.7 550 546.2 550.3 545.8 550.7 545.4 551 545 551.4 544.5 551.8 544.1 552.2 543.7 552.6 543.3 553 543 553.5 542.6 553.9 542.2 554.3 541.9 554.8 541.6 555.2 541.3 555.7 541 556.1 540.7 556.6 540.4 557 540.1 557.5 539.9 557.9 539.7 558.3 539.5 558.7 539.3 559.2 539.1 559.6 538.9 560 538.8 560.4 538.6 560.7 538.5 561.1 538.4 561.4 538.3 561.8 538.2 562.1 538.2 562.4 538.1 562.6 538.1 562.9 538.1 563.1 538.1 563.4 538.1 563.6 538.1 563.8 538.1 563.9 538.2 564.1 538.2 564.2 538.3 564.3 538.4 564.4 538.5 564.4 538.6 564.5 538.7 564.5 538.8 564.5 538.9 564.4 539 564.4 539.2 564.3 539.3 564.2 539.4 564.1 539.6 564 539.7 563.9 539.9 563.7 540 563.5 540.2 563.3 540.4 563.1 540.5 562.9 540.7 562.7 540.8 562.4 541 562.1 541.1 561.9 541.3 561.6 541.4 561.3 541.5 560.9 541.7 560.6 541.8 560.3 541.9 560 542 559.6 542.2 559.3 542.3 558.9 542.3 558.5 542.4 558.2 542.5 557.8 542.6 557.4 542.6 557.1 542.7 556.7 542.7 556.3 542.7 556 542.8 555.6 542.8 555.3 542.8 554.9 542.7 554.6 542.7 554.2 542.7 553.9 542.6 553.5 542.6 553.2 542.5 552.9 542.4 552.6 542.3 552.3 542.2 552 542.1 551.7 541.9 551.4 541.8 551.2 541.6 550.9 541.5 550.7 541.3 550.4 541.1 550.2 540.9 550 540.7 549.8 540.5 549.6 540.3 549.4 540 549.2 539.8 549.1 539.5 548.9 539.3 548.8 539 548.7 538.8 548.5 538.5 548.4 538.2 548.3 537.9 548.2 537.6 548.2 537.3 548.1 537 548 536.7 548 536.4 547.9 536.1 547.9 535.8 547.9 535.5 547.8 535.2 547.8 534.9 547.8 534.5 547.8 534.2 547.8 533.9 547.8 533.6 547.8 533.3 547.8 533 547.8 532.7 547.9 532.4 547.9 532.1 547.9 531.8 547.9 531.5 547.9 531.2 548 530.9 548 530.6 548 530.4 548.1 530.1 548.1 529.8 548.1 529.6 548.1 529.3 548.2 529.1 548.2 528.9 548.2 528.6 548.2 528.4 548.3 528.2 548.3 528 548.3 527.8 548.3 527.6 548.3 527.4 548.3 527.3 548.3 527.1 548.3 527 548.4 526.8 548.4 526.7 548.4 526.5 548.4 526.4 548.3 526.3 548.3 526.2 548.3 526.1 548.3 526 548.3 525.9 548.3 525.8 548.3 525.8 548.3 525.7 548.2 525.7 548.2 525.6 548.2 525.6 548.2 525.5 548.1 525.5 548.1 525.5 548.1 525.5 548.1 525.5 548 525.4 548 525.4 548 525.5 548 525.5 548 525.5 547.9 525.5 547.9 525.5 547.9 525.5 547.9 525.6 547.9 525.6 547.8 525.6 547.8 525.7 547.8 525.7 547.8 525.7 547.8 525.8 547.8 525.8 547.8 525.9 547.8" stroke="#009AFA" stroke-width="2.6"/>
<path d="M648.7 552 648.7 552 648.7 552 648.7 552 648.8 552 648.8 551.9 648.8 551.9 648.8 551.9 648.8 551.9 648.8 551.9 648.9 551.9 648.9 551.9 648.9 551.9 648.9 551.8 648.9 551.8 648.9 551.8 648.9 551.8 649 551.8 649 551.8 649 551.8 649 551.8 649 551.8 649 551.7 649 551.7 649 551.7 649 551.7 649 551.7 649 551.7 649 551.7 649.1 551.7 649.1 551.7 649.1 551.7 649.1 551.7 649.1 551.7 649.1 551.7 649.1 551.6 649.1 551.6 649.1 551.6 649.1 551.6 649.1 551.6 649.1 551.6 649.1 551.5 649.1 551.5 649.1 551.5 649 551.5 649 551.5 649 551.5 649 551.4 648.9 551.4 648.9 551.4 648.9 551.4 648.8 551.4 648.8 551.4 648.8 551.4 648.7 551.4 648.7 551.4 648.6 551.5 648.5 551.5 648.5 551.5 648.4 551.5 648.3 551.6 648.3 551.6 648.2 551.6 648.1 551.7 648 551.7 648 551.8 647.9 551.9 647.8 551.9 647.7 552 647.6 552.1 647.5 552.2 647.4 552.3 647.3 552.4 647.3 552.5 647.2 552.6 647.1 552.7 647 552.8 646.9 552.9 646.8 553 646.7 553.2 646.6 553.3 646.5 553.4 646.4 553.6 646.3 553.7 646.3 553.9 646.2 554 646.1 554.1 646 554.3 646 554.4 645.9 554.6 645.8 554.7 645.8 554.9 645.7 555 645.7 555.2 645.6 555.3 645.6 555.4 645.5 555.6 645.5 555.7 645.5 555.8 645.5 556 645.5 556.1 645.5 556.2 645.5 556.3 645.5 556.4 645.5 556.5 645.5 556.6 645.6 556.7 645.6 556.8 645.6 556.9 645.7 556.9 645.7 557 645.8 557 645.9 557.1 645.9 557.1 646 557.1 646.1 557.1 646.2 557.1 646.3 557.1 646.4 557.1 646.5 557.1 646.6 557 646.7 557 646.8 556.9 647 556.9 647.1 556.8 647.2 556.7 647.4 556.6 647.5 556.5 647.6 556.4 647.8 556.3 647.9 556.1 648 556 648.2 555.9 648.3 555.7 648.4 555.6 648.6 555.4 648.7 555.2 648.8 555.1 649 554.9 649.1 554.7 649.2 554.5 649.3 554.3 649.4 554.1 649.6 553.9 649.7 553.7 649.8 553.5 649.8 553.3 649.9 553.1 650 552.9 650.1 552.7 650.1 552.5 650.2 552.3 650.2 552.1 650.2 552 650.3 551.8 650.3 551.6 650.3 551.4 650.3 551.3 650.3 551.1 650.2 551 650.2 550.9 650.1 550.7 650.1 550.6 650 550.5 649.9 550.4 649.8 550.3 649.7 550.3 649.6 550.2 649.5 550.1 649.4 550.1 649.2 550.1 649.1 550.1 648.9 550.1 648.7 550.1 648.5 550.1 648.3 550.2 648.1 550.3 647.9 550.3 647.7 550.4 647.5 550.5 647.2 550.7 647 550.8 646.7 550.9 646.5 551.1 646.2 551.3 646 551.5 645.7 551.7 645.4 551.9 645.2 552.1 644.9 552.4 644.6 552.6 644.3 552.9 644 553.2 643.8 553.5 643.5 553.8 643.2 554.1 642.9 554.4 642.7 554.7 642.4 555 642.1 555.4 641.9 555.7 641.6 556 641.4 556.4 641.1 556.7 640.9 557.1 640.7 557.4 640.4 557.8 640.2 558.1 640 558.5 639.8 558.8 639.7 559.2 639.5 559.5 639.3 559.8 639.2 560.2 639.1 560.5 639 560.8 638.8 561.1 638.8 561.4 638.7 561.7 638.6 561.9 638.6 562.2 638.5 562.4 638.5 562.7 638.5 562.9 638.5 563.1 638.5 563.3 638.6 563.4 638.6 563.6 638.7 563.7 638.8 563.8 638.9 563.9 639 564 639.1 564.1 639.2 564.1 639.4 564.1 639.5 564.2 639.7 564.1 639.9 564.1 640.1 564.1 640.3 564 640.5 563.9 640.7 563.8 640.9 563.6 641.2 563.5 641.4 563.3 641.7 563.1 641.9 562.9 642.2 562.7 642.4 562.5 642.7 562.2 643 561.9 643.2 561.7 643.5 561.4 643.8 561 644 560.7 644.3 560.4 644.6 560 644.8 559.7 645.1 559.3 645.4 558.9 645.6 558.6 645.8 558.2 646.1 557.8 646.3 557.4 646.5 557 646.7 556.6 646.9 556.2 647.1 555.8 647.3 555.4 647.4 555 647.6 554.6 647.7 554.2 647.8 553.8 647.9 553.4 648 553.1 648.1 552.7 648.1 552.4 648.1 552 648.2 551.7 648.2 551.4 648.1 551.1 648.1 550.8 648.1 550.6 648 550.3 647.9 550.1 647.8 549.9 647.7 549.7 647.5 549.6 647.4 549.4 647.2 549.3 647 549.2 646.8 549.1 646.5 549 646.3 549 646 549 645.7 549 645.4 549.1 645.1 549.1 644.8 549.2 644.5 549.3 644.1 549.5 643.7 549.6 643.4 549.8 643 550 642.6 550.2 642.2 550.5 641.8 550.8 641.3 551 640.9 551.4 640.5 551.7 640.1 552 639.6 552.4 639.2 552.8 638.7 553.2 638.3 553.6 637.8 554.1 637.4 554.5 637 555 636.5 555.5 636.1 556 635.7 556.5 635.3 557 634.8 557.5 634.4 558 634.1 558.5 633.7 559 633.3 559.6 632.9 560.1 632.6 560.6 632.3 561.2 632 561.7 631.7 562.2 631.4 562.7 631.1 563.2 630.9 563.7 630.6 564.2 630.4 564.6 630.2 565.1 630 565.6 629.9 566 629.8 566.4 629.6 566.8 629.5 567.2 629.5 567.5 629.4 567.9 629.4 568.2 629.4 568.5 629.4 568.7 629.4 569 629.5 569.2 629.6 569.4 629.6 569.6 629.8 569.7 629.9 569.8 630 569.9 630.2 570 630.4 570 630.6 570 630.8 570 631.1 569.9 631.3 569.9 631.6 569.8 631.9 569.6 632.2 569.5 632.5 569.3 632.8 569.1 633.1 568.8 633.5 568.6 633.8 568.3 634.2 567.9 634.5 567.6 634.9 567.2 635.3 566.9 635.6 566.5 636 566 636.4 565.6 636.8 565.1 637.1 564.6 637.5 564.2 637.9 563.7 638.2 563.1 638.6 562.6 638.9 562.1 639.2 561.5 639.6 561 639.9 560.4 640.2 559.8 640.5 559.3 640.7 558.7 641 558.2 641.2 557.6 641.5 557 641.7 556.5 641.9 555.9 642 555.4 642.2 554.9 642.3 554.4 642.4 553.8 642.5 553.4 642.6 552.9 642.6 552.4 642.6 552 642.6 551.6 642.6 551.2 642.6 550.8 642.5 550.4 642.4 550.1 642.3 549.8 642.1 549.5 641.9 549.3 641.7 549.1 641.5 548.9 641.3 548.7 641 548.6 640.7 548.4 640.4 548.4 640.1 548.3 639.8 548.3 639.4 548.3 639 548.4 638.6 548.5 638.2 548.6 637.7 548.7 637.3 548.9 636.8 549.1 636.3 549.3 635.8 549.6 635.3 549.9 634.8 550.2 634.2 550.5 633.7 550.9 633.2 551.3 632.6 551.7 632 552.2 631.5 552.7 630.9 553.2 630.3 553.7 629.8 554.2 629.2 554.8 628.7 555.4 628.1 555.9 627.5 556.5 627 557.2 626.5 557.8 625.9 558.4 625.4 559.1 624.9 559.7 624.4 560.4 623.9 561 623.5 561.7 623 562.3 622.6 563 622.2 563.6 621.8 564.3 621.4 564.9 621 565.5 620.7 566.1 620.4 566.8 620.1 567.3 619.8 567.9 619.6 568.5 619.4 569 619.2 569.5 619 570 618.8 570.5 618.7 571 618.6 571.4 618.5 571.8 618.5 572.2 618.5 572.5 618.5 572.8 618.5 573.1 618.6 573.4 618.7 573.6 618.8 573.8 618.9 574 619.1 574.1 619.2 574.2 619.4 574.3 619.7 574.3 619.9 574.3 620.2 574.2 620.4 574.2 620.7 574.1 621.1 573.9 621.4 573.7 621.7 573.5 622.1 573.3 622.5 573 622.9 572.7 623.3 572.4 623.7 572 624.1 571.6 624.5 571.2 624.9 570.7 625.4 570.3 625.8 569.8 626.2 569.2 626.7 568.7 627.1 568.1 627.5 567.6 627.9 567 628.4 566.3 628.8 565.7 629.2 565.1 629.6 564.4 630 563.8 630.3 563.1 630.7 562.4 631 561.7 631.4 561.1 631.7 560.4 632 559.7 632.3 559 632.5 558.4 632.8 557.7 633 557.1 633.2 556.4 633.3 555.8 633.5 555.2 633.6 554.6 633.7 554 633.8 553.4 633.8 552.9 633.8 552.4 633.8 551.9 633.8 551.4 633.7 550.9 633.6 550.5 633.5 550.1 633.3 549.8 633.2 549.4 633 549.1 632.7 548.9 632.5 548.6 632.2 548.4 631.9 548.3 631.6 548.1 631.2 548 630.8 548 630.4 548 630 548 629.5 548 629.1 548.1 628.6 548.2 628.1 548.4 627.5 548.6 627 548.8 626.4 549.1 625.9 549.4 625.3 549.7 624.7 550.1 624.1 550.4 623.5 550.9 622.8 551.3 622.2 551.8 621.6 552.3 620.9 552.9 620.3 553.4 619.6 554 619 554.6 618.3 555.2 617.7 555.9 617.1 556.5 616.5 557.2 615.8 557.9 615.2 558.6 614.6 559.3 614 560 613.5 560.8 612.9 561.5 612.4 562.2 611.8 563 611.3 563.7 610.8 564.4 610.4 565.2 609.9 565.9 609.5 566.6 609.1 567.3 608.7 568 608.3 568.6 608 569.3 607.7 569.9 607.4 570.6 607.2 571.2 606.9 571.7 606.7 572.3 606.6 572.8 606.4 573.3 606.3 573.8 606.2 574.2 606.2 574.7 606.1 575 606.1 575.4 606.1 575.7 606.2 576 606.3 576.2 606.4 576.4 606.5 576.6 606.7 576.8 606.9 576.8 607.1 576.9 607.3 576.9 607.6 576.9 607.8 576.9 608.1 576.8 608.4 576.7 608.8 576.5 609.1 576.3 609.5 576.1 609.9 575.8 610.3 575.5 610.7 575.1 611.1 574.8 611.5 574.3 612 573.9 612.4 573.4 612.9 572.9 613.3 572.4 613.8 571.9 614.2 571.3 614.7 570.7 615.2 570.1 615.6 569.4 616.1 568.8 616.5 568.1 616.9 567.4 617.4 566.7 617.8 566 618.2 565.2 618.6 564.5 618.9 563.8 619.3 563 619.6 562.3 620 561.5 620.3 560.8 620.6 560 620.8 559.3 621.1 558.6 621.3 557.9 621.5 557.2 621.6 556.5 621.8 555.8 621.9 555.1 622 554.5 622 553.9 622.1 553.3 622.1 552.7 622.1 552.2 622 551.6 621.9 551.2 621.8 550.7 621.7 550.3 621.5 549.9 621.3 549.5 621.1 549.2 620.8 548.9 620.5 548.6 620.2 548.4 619.9 548.2 619.5 548.1 619.1 547.9 618.7 547.9 618.3 547.8 617.8 547.8 617.3 547.9 616.8 548 616.3 548.1 615.8 548.2 615.2 548.4 614.6 548.7 614 549 613.4 549.3 612.8 549.6 612.1 550 611.5 550.4 610.8 550.8 610.2 551.3 609.5 551.8 608.8 552.4 608.2 552.9 607.5 553.5 606.8 554.1 606.1 554.8 605.4 555.4 604.8 556.1 604.1 556.8 603.4 557.5 602.8 558.2 602.1 559 601.5 559.7 600.9 560.5 600.3 561.2 599.7 562 599.1 562.8 598.6 563.6 598.1 564.3 597.5 565.1 597 565.9 596.6 566.6 596.1 567.4" stroke="#009AFA" stroke-width="2.6"/>
<path d="M455.7 552 455.7 552 455.7 552 455.6 552 455.6 551.9 455.6 551.9 455.6 551.9 455.6 551.9 455.6 551.9 455.5 551.9 455.5 551.9 455.5 551.8 455.5 551.8 455.5 551.8 455.5 551.8 455.5 551.8 455.5 551.8 455.6 551.8 455.6 551.7 455.6 551.7 455.6 551.7 455.6 551.7 455.7 551.7 455.7 551.7 455.7 551.7 455.7 551.6 455.7 551.6 455.7 551.6 455.7 551.6 455.7 551.6 455.8 551.6 455.8 551.6 455.8 551.6 455.9 551.6 455.9 551.6 455.9 551.6 456 551.6 456.1 551.6 456.1 551.7 456.2 551.7 456.2 551.7 456.3 551.8 456.4 551.8 456.5 551.9 456.5 552 456.6 552 456.7 552.1 456.8 552.2 456.9 552.3 456.9 552.4 457 552.5 457.1 552.6 457.2 552.7 457.3 552.9 457.4 553 457.5 553.1 457.5 553.3 457.6 553.4 457.7 553.5 457.8 553.7 457.8 553.8 457.9 554 458 554.1 458 554.3 458.1 554.4 458.1 554.6 458.1 554.7 458.2 554.9 458.2 555 458.2 555.1 458.2 555.3 458.2 555.4 458.2 555.5 458.2 555.6 458.2 555.7 458.1 555.8 458.1 555.9 458 556 458 556 457.9 556.1 457.9 556.1 457.8 556.2 457.7 556.2 457.6 556.2 457.5 556.2 457.4 556.2 457.3 556.1 457.1 556.1 457 556.1 456.9 556 456.8 555.9 456.6 555.8 456.5 555.7 456.3 555.6 456.2 555.5 456 555.4 455.9 555.2 455.8 555.1 455.6 554.9 455.5 554.7 455.3 554.5 455.2 554.3 455.1 554.2 454.9 554 454.8 553.8 454.7 553.5 454.6 553.3 454.5 553.1 454.4 552.9 454.3 552.7 454.3 552.5 454.2 552.3 454.2 552.1 454.1 551.9 454.1 551.7 454.1 551.5 454.1 551.4 454.1 551.2 454.1 551 454.2 550.9 454.2 550.8 454.3 550.6 454.4 550.5 454.5 550.4 454.6 550.4 454.8 550.3 454.9 550.3 455.1 550.2 455.2 550.2 455.4 550.3 455.6 550.3 455.8 550.3 456.1 550.4 456.3 550.5 456.6 550.6 456.8 550.7 457.1 550.9 457.4 551.1 457.6 551.2 457.9 551.5 458.2 551.7 458.5 551.9 458.8 552.2 459.2 552.5 459.5 552.8 459.8 553.1 460.1 553.4 460.4 553.7 460.7 554.1 461 554.4 461.3 554.8 461.6 555.2 461.9 555.5 462.2 555.9 462.5 556.3 462.7 556.7 463 557.1 463.2 557.5 463.4 557.9 463.6 558.3 463.8 558.7 464 559.1 464.2 559.4 464.3 559.8 464.5 560.2 464.6 560.5 464.7 560.8 464.8 561.1 464.8 561.4 464.9 561.7 464.9 562 464.9 562.2 464.9 562.4 464.8 562.6 464.7 562.8 464.7 562.9 464.6 563.1 464.4 563.2 464.3 563.2 464.2 563.3 464 563.3 463.8 563.3 463.6 563.3 463.4 563.2 463.1 563.1 462.9 563 462.6 562.9 462.4 562.7 462.1 562.5 461.8 562.3 461.5 562 461.2 561.8 460.9 561.5 460.6 561.2 460.3 560.8 460 560.5 459.6 560.1 459.3 559.7 459 559.3 458.7 558.9 458.4 558.5 458.2 558.1 457.9 557.6 457.6 557.2 457.4 556.7 457.1 556.2 456.9 555.8 456.7 555.3 456.5 554.9 456.4 554.4 456.2 554 456.1 553.5 456 553.1 455.9 552.7 455.8 552.3 455.8 551.9 455.8 551.6 455.8 551.2 455.8 550.9 455.9 550.6 456 550.3 456.1 550.1 456.2 549.8 456.4 549.6 456.6 549.5 456.8 549.3 457 549.2 457.3 549.2 457.6 549.1 457.9 549.1 458.2 549.2 458.6 549.2 459 549.3 459.3 549.4 459.8 549.6 460.2 549.8 460.6 550 461.1 550.3 461.6 550.6 462 550.9 462.5 551.3 463 551.6 463.5 552.1 464.1 552.5 464.6 553 465.1 553.4 465.6 554 466.1 554.5 466.6 555 467.1 555.6 467.6 556.2 468.1 556.8 468.6 557.4 469.1 558 469.5 558.6 469.9 559.2 470.4 559.8 470.8 560.4 471.1 561 471.5 561.7 471.8 562.2 472.1 562.8 472.4 563.4 472.7 564 472.9 564.5 473.1 565 473.3 565.5 473.5 566 473.6 566.5 473.7 566.9 473.7 567.3 473.7 567.7 473.7 568 473.7 568.3 473.7 568.6 473.6 568.8 473.4 569 473.3 569.1 473.1 569.2 472.9 569.3 472.7 569.4 472.4 569.3 472.2 569.3 471.9 569.2 471.6 569.1 471.2 568.9 470.9 568.7 470.5 568.5 470.1 568.2 469.7 567.9 469.3 567.5 468.9 567.2 468.4 566.7 468 566.3 467.6 565.8 467.1 565.3 466.7 564.8 466.2 564.2 465.8 563.6 465.4 563 465 562.4 464.6 561.8 464.2 561.1 463.8 560.5 463.4 559.8 463.1 559.2 462.7 558.5 462.4 557.8 462.2 557.2 461.9 556.5 461.7 555.9 461.5 555.2 461.3 554.6 461.1 554 461 553.4 460.9 552.9 460.9 552.3 460.9 551.8 460.9 551.3 460.9 550.9 461 550.5 461.1 550.1 461.3 549.7 461.5 549.4 461.7 549.1 462 548.9 462.2 548.7 462.6 548.6 462.9 548.5 463.3 548.4 463.7 548.4 464.2 548.4 464.6 548.5 465.1 548.6 465.7 548.8 466.2 549 466.8 549.2 467.4 549.5 468 549.9 468.6 550.3 469.2 550.7 469.9 551.1 470.5 551.6 471.2 552.2 471.8 552.7 472.5 553.3 473.2 554 473.9 554.6 474.5 555.3 475.2 556 475.8 556.7 476.5 557.4 477.1 558.2 477.7 559 478.3 559.7 478.9 560.5 479.5 561.3 480 562.1 480.5 562.9 481 563.6 481.5 564.4 481.9 565.1 482.3 565.9 482.7 566.6 483 567.3 483.3 568 483.6 568.6 483.8 569.2 484 569.8 484.2 570.4 484.3 570.9 484.4 571.4 484.4 571.8 484.4 572.2 484.4 572.6 484.3 572.9 484.2 573.2 484.1 573.4 483.9 573.6 483.7 573.7 483.5 573.8 483.2 573.8 482.9 573.8 482.6 573.8 482.3 573.6 481.9 573.5 481.5 573.2 481.1 573 480.6 572.7 480.2 572.3 479.7 571.9 479.2 571.5 478.7 571 478.2 570.5 477.7 569.9 477.1 569.3 476.6 568.7 476.1 568 475.6 567.3 475.1 566.6 474.6 565.9 474.1 565.1 473.6 564.3 473.1 563.6 472.7 562.8 472.2 562 471.8 561.1 471.5 560.3 471.1 559.5 470.8 558.7 470.5 557.9 470.2 557.1 470 556.4 469.8 555.6 469.6 554.9 469.5 554.2 469.4 553.5 469.3 552.8 469.3 552.2 469.3 551.6 469.4 551.1 469.5 550.6 469.6 550.1 469.8 549.7 470 549.3 470.3 548.9 470.6 548.7 470.9 548.4 471.3 548.2 471.7 548.1 472.2 548 472.6 548 473.2 548 473.7 548.1 474.3 548.2 474.9 548.4 475.5 548.6 476.2 548.9 476.9 549.2 477.6 549.6 478.3 550.1 479 550.5 479.7 551.1 480.5 551.6 481.3 552.2 482 552.9 482.8 553.5 483.6 554.3 484.4 555 485.1 555.8 485.9 556.6 486.6 557.4 487.4 558.2 488.1 559.1 488.8 559.9 489.5 560.8 490.2 561.7 490.8 562.6 491.4 563.5 492 564.3 492.6 565.2 493.1 566.1 493.6 566.9 494.1 567.8 494.5 568.6 494.9 569.4 495.3 570.1 495.6 570.9 495.8 571.5 496.1 572.2 496.3 572.8 496.4 573.4 496.5 574 496.6 574.5 496.6 574.9 496.6 575.3 496.6 575.7 496.5 576 496.3 576.2 496.2 576.4 496 576.6 495.7 576.7 495.4 576.7 495.1 576.7 494.8 576.6 494.4 576.4 494 576.3 493.6 576 493.1 575.7 492.6 575.4 492.2 575 491.6 574.5 491.1 574 490.6 573.5 490 572.9 489.5 572.3 488.9 571.6 488.4 570.9 487.8 570.2 487.3 569.4 486.7 568.6 486.2 567.8 485.7 566.9 485.2 566.1 484.7 565.2 484.2 564.3 483.7 563.4 483.3 562.5 482.9 561.6 482.5 560.7 482.2 559.8 481.9 559 481.6 558.1 481.3 557.2 481.1 556.4 481 555.6 480.8 554.8 480.7 554 480.7 553.3 480.7 552.6 480.7 552 480.8 551.4 480.9 550.8 481.1 550.3 481.3 549.8 481.5 549.4 481.8 549 482.1 548.7 482.5 548.4 482.9 548.2 483.4 548 483.9 547.9 484.4 547.8 484.9 547.9 485.5 547.9 486.1 548 486.8 548.2 487.5 548.5 488.2 548.7 488.9 549.1 489.7 549.5 490.4 549.9 491.2 550.4 492 551 492.8 551.6 493.6 552.2 494.5 552.9 495.3 553.6 496.1 554.3 496.9 555.1 497.7 555.9 498.6 556.8 499.4 557.6 500.1 558.5 500.9 559.4 501.7 560.4 502.4 561.3 503.1 562.2 503.8 563.1 504.4 564.1 505.1 565 505.7 565.9 506.2 566.9 506.8 567.8 507.3 568.6 507.7 569.5 508.1 570.3 508.5 571.1 508.8 571.9 509.1 572.7 509.4 573.4 509.6 574 509.8 574.6 509.9 575.2 510 575.8 510 576.2 510 576.7 510 577 509.9 577.4 509.8 577.6 509.6 577.8 509.4 578 509.2 578.1 508.9 578.1 508.6 578.1 508.2 578 507.9 577.9 507.5 577.7 507 577.5 506.6 577.2 506.1 576.8 505.6 576.4 505.1 575.9 504.6 575.4 504.1 574.8 503.5 574.2 503 573.6 502.5 572.9 501.9 572.1 501.4 571.4 500.8 570.6 500.3 569.7 499.8 568.9 499.2 568 498.7 567.1 498.3 566.2 497.8 565.3 497.4 564.3 497 563.4 496.6 562.5 496.2 561.5 495.9 560.6 495.6 559.6 495.3 558.7 495.1 557.8 494.9 557 494.8 556.1 494.7 555.3 494.6 554.5 494.6 553.7 494.6 553 494.7 552.3 494.8 551.6 494.9 551 495.1 550.5 495.3 550 495.6 549.5 495.9 549.1 496.3 548.7 496.7 548.4 497.1 548.2 497.6 548 498.1 547.9 498.7 547.8 499.2 547.8 499.9 547.9 500.5 548 501.2 548.1 501.9 548.4 502.6 548.6 503.3 549 504.1 549.4 504.9 549.8 505.7 550.3 506.5 550.9 507.3 551.4 508.1 552.1 508.9 552.8 509.8 553.5 510.6 554.2 511.4 555 512.2 555.9 513 556.7 513.8 557.6 514.6 558.5 515.4 559.4 516.1 560.3 516.8 561.3 517.5 562.2 518.2 563.2 518.8 564.2 519.4 565.1 520 566.1 520.6 567 521.1 567.9 521.6 568.8 522 569.7 522.4 570.6 522.8 571.4 523.1 572.2 523.4 572.9 523.6 573.7 523.8 574.4 523.9 575 524.1 575.6 524.1 576.1 524.1 576.6 524.1 577.1 524.1 577.5 524 577.8 523.9 578.1 523.7 578.3 523.5 578.5 523.3 578.6 523 578.7 522.7 578.7 522.4 578.6 522 578.5 521.6 578.3 521.2 578 520.8 577.7 520.4 577.4 519.9 577 519.4 576.5 518.9 576 518.5 575.4 518 574.8 517.5 574.2 517 573.5 516.5 572.7 516 572" stroke="#009AFA" stroke-width="2.6"/>
<path d="M453.7 551.6 L454.86 550.34 L456.02 549.85 L457.18 549.5 L458.33 549.22 L459.49 549 L460.65 548.8 L461.81 548.64 L462.97 548.5 L464.12 548.37 L465.28 548.26 L466.44 548.16 L467.6 548.08 L468.76 548 L469.92 547.93 L471.08 547.87 L472.23 547.82 L473.39 547.77 L474.55 547.73 L475.71 547.69 L476.87 547.65 L478.02 547.62 L479.18 547.6 L480.34 547.57 L481.5 547.55 L497 578.39 L495.2 578.25 L493.39 578.09 L491.59 577.9 L489.78 577.69 L487.98 577.45 L486.18 577.18 L484.37 576.88 L482.57 576.53 L480.76 576.15 L478.96 575.72 L477.15 575.23 L475.35 574.68 L473.55 574.07 L471.74 573.37 L469.94 572.59 L468.13 571.7 L466.33 570.69 L464.53 569.53 L462.72 568.19 L460.92 566.6 L459.11 564.69 L457.31 562.28 L455.5 558.96 L453.7 550.4Z" fill="#009AFA" stroke="#009AFA" stroke-width="1.2"/>
<path d="M650.7 551.6 L650.11 550.69 L649.52 550.32 L648.93 550.05 L648.33 549.83 L647.74 549.65 L647.15 549.48 L646.56 549.34 L645.97 549.2 L645.38 549.08 L644.78 548.97 L644.19 548.87 L643.6 548.78 L643.01 548.7 L642.42 548.62 L641.83 548.54 L641.23 548.47 L640.64 548.41 L640.05 548.35 L639.46 548.29 L638.87 548.24 L638.27 548.19 L637.68 548.14 L637.09 548.1 L636.5 548.06 L628 575.01 L628.95 574.72 L629.89 574.4 L630.84 574.07 L631.78 573.72 L632.73 573.35 L633.67 572.94 L634.62 572.52 L635.57 572.06 L636.51 571.57 L637.46 571.05 L638.4 570.49 L639.35 569.89 L640.3 569.24 L641.24 568.53 L642.19 567.77 L643.13 566.93 L644.08 566.01 L645.03 564.99 L645.97 563.85 L646.92 562.55 L647.86 561.02 L648.81 559.15 L649.75 556.65 L650.7 550.4Z" fill="#009AFA" stroke="#009AFA" stroke-width="1.2"/>
<path d="M454.96 558.81 L455.95 560.46 L456.94 562.11 L457.92 563.74 L458.91 565.37 L459.9 567 L460.89 568.61 L461.87 570.22 L462.86 571.81 L463.85 573.4 L464.84 574.98 L465.82 576.56 L466.81 578.12 L467.8 579.67 L468.79 581.21 L469.77 582.75 L470.76 584.27 L471.75 585.78 L472.74 587.28 L473.72 588.77 L474.71 590.25 L475.7 591.71 L476.69 593.17 L477.67 594.61 L478.66 596.04 L479.65 597.45 L480.63 598.86 L481.62 600.25 L482.61 601.62 L483.6 602.99 L484.58 604.33 L485.57 605.67 L486.56 606.99 L487.55 608.3 L488.53 609.59 L489.52 610.86 L490.51 612.12 L491.5 613.37 L492.48 614.6 L493.47 615.81 L494.46 617.01 L495.45 618.19 L496.43 619.36 L497.42 620.5 L498.41 621.63 L499.4 622.75 L500.38 623.84 L501.37 624.92 L502.36 625.98 L503.35 627.03 L504.33 628.05 L505.32 629.06 L506.31 630.05 L507.29 631.02 L508.28 631.97 L509.27 632.9 L510.26 633.81 L511.24 634.71 L512.23 635.58 L513.22 636.44 L514.21 637.27 L515.19 638.09 L516.18 638.88 L517.17 639.66 L518.16 640.41 L519.14 641.15 L520.13 641.86 L521.12 642.56 L522.11 643.23 L523.09 643.88 L524.08 644.51 L525.07 645.12 L526.06 645.71 L527.04 646.28 L528.03 646.83 L529.02 647.35 L530 647.85 L530.99 648.33 L531.98 648.79 L532.97 649.23 L533.95 649.65 L534.94 650.04 L535.93 650.41 L536.92 650.76 L537.9 651.09 L538.89 651.4 L539.88 651.68 L540.87 651.94 L541.85 652.18 L542.84 652.4 L543.83 652.59 L544.82 652.76 L545.8 652.91 L546.79 653.03 L547.78 653.14 L548.77 653.22 L549.75 653.28 L550.74 653.31 L551.73 653.33 L552.71 653.32 L553.7 653.29 L554.69 653.23 L555.68 653.15 L556.66 653.05 L557.65 652.93 L558.64 652.79 L559.63 652.62 L560.61 652.43 L561.6 652.22 L562.59 651.98 L563.58 651.73 L564.56 651.45 L565.55 651.15 L566.54 650.82 L567.53 650.48 L568.51 650.11 L569.5 649.72 L570.49 649.31 L571.48 648.87 L572.46 648.42 L573.45 647.94" stroke="#009AFA" stroke-width="2.3"/>
<path d="M197.3 526.26 L198.48 524.2 L199.66 522.14 L200.85 520.08 L202.03 518.02 L203.21 515.97 L204.39 513.91 L205.57 511.86 L206.75 509.82 L207.94 507.77 L209.12 505.74 L210.3 503.7 L211.48 501.68 L212.66 499.65 L213.84 497.64 L215.03 495.63 L216.21 493.63 L217.39 491.64 L218.57 489.66 L219.75 487.68 L220.93 485.72 L222.12 483.76 L223.3 481.82 L224.48 479.88 L225.66 477.96 L226.84 476.05 L228.02 474.15 L229.21 472.27 L230.39 470.4 L231.57 468.54 L232.75 466.7 L233.93 464.87 L235.11 463.05 L236.3 461.26 L237.48 459.47 L238.66 457.71 L239.84 455.96 L241.02 454.23 L242.21 452.51 L243.39 450.82 L244.57 449.14 L245.75 447.48 L246.93 445.85 L248.11 444.23 L249.3 442.63 L250.48 441.05 L251.66 439.5 L252.84 437.96 L254.02 436.45 L255.2 434.96 L256.39 433.49 L257.57 432.04 L258.75 430.62 L259.93 429.22 L261.11 427.85 L262.29 426.49 L263.48 425.17 L264.66 423.87 L265.84 422.59 L267.02 421.34 L268.2 420.12 L269.38 418.92 L270.57 417.75 L271.75 416.6 L272.93 415.48 L274.11 414.39 L275.29 413.33 L276.47 412.3 L277.66 411.29 L278.84 410.31 L280.02 409.36 L281.2 408.44 L282.38 407.55 L283.56 406.68 L284.75 405.85 L285.93 405.05 L287.11 404.27 L288.29 403.53 L289.47 402.82 L290.66 402.13 L291.84 401.48 L293.02 400.86 L294.2 400.27 L295.38 399.71 L296.56 399.18 L297.75 398.69 L298.93 398.22 L300.11 397.79 L301.29 397.38 L302.47 397.01 L303.65 396.68 L304.84 396.37 L306.02 396.09 L307.2 395.85 L308.38 395.64 L309.56 395.46 L310.74 395.32 L311.93 395.21 L313.11 395.12 L314.29 395.08 L315.47 395.06 L316.65 395.08 L317.83 395.12 L319.02 395.21 L320.2 395.32 L321.38 395.46 L322.56 395.64 L323.74 395.85 L324.92 396.09 L326.11 396.37 L327.29 396.68 L328.47 397.01 L329.65 397.38 L330.83 397.79 L332.02 398.22 L333.2 398.69 L334.38 399.18 L335.56 399.71 L336.74 400.27 L337.92 400.86 L339.11 401.48 L340.29 402.13 L341.47 402.82 L342.65 403.53 L343.83 404.27 L345.01 405.05 L346.2 405.85 L347.38 406.68 L348.56 407.55 L349.74 408.44 L350.92 409.36 L352.1 410.31 L353.29 411.29 L354.47 412.3 L355.65 413.33 L356.83 414.39 L358.01 415.48 L359.19 416.6 L360.38 417.75 L361.56 418.92 L362.74 420.12 L363.92 421.34 L365.1 422.59 L366.28 423.87 L367.47 425.17 L368.65 426.49 L369.83 427.85 L371.01 429.22 L372.19 430.62 L373.37 432.04 L374.56 433.49 L375.74 434.96 L376.92 436.45 L378.1 437.96 L379.28 439.5 L380.47 441.05 L381.65 442.63 L382.83 444.23 L384.01 445.85 L385.19 447.49 L386.37 449.14 L387.56 450.82 L388.74 452.51 L389.92 454.23 L391.1 455.96 L392.28 457.71 L393.46 459.47 L394.65 461.26 L395.83 463.05 L397.01 464.87 L398.19 466.7 L399.37 468.54 L400.55 470.4 L401.74 472.27 L402.92 474.15 L404.1 476.05 L405.28 477.96 L406.46 479.88 L407.64 481.82 L408.83 483.76 L410.01 485.72 L411.19 487.68 L412.37 489.66 L413.55 491.64 L414.73 493.63 L415.92 495.63 L417.1 497.64 L418.28 499.65 L419.46 501.68 L420.64 503.7 L421.83 505.74 L423.01 507.77 L424.19 509.82 L425.37 511.86 L426.55 513.91 L427.73 515.97 L428.92 518.02 L430.1 520.08 L431.28 522.14 L432.46 524.2 L433.64 526.26 L434.82 528.32 L436.01 530.38 L437.19 532.44 L438.37 534.5 L439.55 536.55 L440.73 538.61 L441.91 540.66 L443.1 542.7 L444.28 544.75 L445.46 546.78 L446.64 548.82 L447.82 550.84 L449 552.87 L450.19 554.88 L451.37 556.89 L452.55 558.89 L453.73 560.88 L454.91 562.86 L456.09 564.84 L457.28 566.8 L458.46 568.76 L459.64 570.7 L460.82 572.64 L462 574.56 L463.18 576.47 L464.37 578.37 L465.55 580.25 L466.73 582.12 L467.91 583.98 L469.09 585.82 L470.28 587.65 L471.46 589.47 L472.64 591.26 L473.82 593.05 L475 594.81 L476.18 596.56 L477.37 598.29 L478.55 600.01 L479.73 601.7 L480.91 603.38 L482.09 605.04 L483.27 606.67 L484.46 608.29 L485.64 609.89 L486.82 611.47 L488 613.02 L489.18 614.56 L490.36 616.07 L491.55 617.56 L492.73 619.03 L493.91 620.48 L495.09 621.9 L496.27 623.3 L497.45 624.67 L498.64 626.03 L499.82 627.35 L501 628.65 L502.18 629.93 L503.36 631.18 L504.54 632.4 L505.73 633.6 L506.91 634.77 L508.09 635.92 L509.27 637.04 L510.45 638.13 L511.64 639.19 L512.82 640.22 L514 641.23 L515.18 642.21 L516.36 643.16 L517.54 644.08 L518.73 644.97 L519.91 645.84 L521.09 646.67 L522.27 647.47 L523.45 648.25 L524.63 648.99 L525.82 649.7 L527 650.39 L528.18 651.04 L529.36 651.66 L530.54 652.25 L531.72 652.81 L532.91 653.34 L534.09 653.84 L535.27 654.3 L536.45 654.73 L537.63 655.14 L538.81 655.51 L540 655.84 L541.18 656.15 L542.36 656.43 L543.54 656.67 L544.72 656.88 L545.9 657.06 L547.09 657.2 L548.27 657.31 L549.45 657.4 L550.63 657.44 L551.81 657.46 L552.99 657.44 L554.18 657.4 L555.36 657.31 L556.54 657.2 L557.72 657.06 L558.9 656.88 L560.09 656.67 L561.27 656.43 L562.45 656.15 L563.63 655.84 L564.81 655.51 L565.99 655.14 L567.18 654.73 L568.36 654.3 L569.54 653.83 L570.72 653.34 L571.9 652.81 L573.08 652.25 L574.27 651.66 L575.45 651.04 L576.63 650.39 L577.81 649.7 L578.99 648.99 L580.17 648.25 L581.36 647.47 L582.54 646.67 L583.72 645.84 L584.9 644.97 L586.08 644.08 L587.26 643.16 L588.45 642.21 L589.63 641.23 L590.81 640.22 L591.99 639.19 L593.17 638.13 L594.35 637.04 L595.54 635.92 L596.72 634.77 L597.9 633.6 L599.08 632.4 L600.26 631.18 L601.45 629.93 L602.63 628.65 L603.81 627.35 L604.99 626.02 L606.17 624.67 L607.35 623.3 L608.54 621.9 L609.72 620.48 L610.9 619.03 L612.08 617.56 L613.26 616.07 L614.44 614.56 L615.63 613.02 L616.81 611.47 L617.99 609.89 L619.17 608.29 L620.35 606.67 L621.53 605.03 L622.72 603.38 L623.9 601.7 L625.08 600 L626.26 598.29 L627.44 596.56 L628.62 594.81 L629.81 593.05 L630.99 591.26 L632.17 589.47 L633.35 587.65 L634.53 585.82 L635.71 583.98 L636.9 582.12 L638.08 580.25 L639.26 578.37 L640.44 576.47 L641.62 574.56 L642.81 572.64 L643.99 570.7 L645.17 568.76 L646.35 566.8 L647.53 564.84 L648.71 562.86 L649.9 560.88 L651.08 558.89 L652.26 556.89 L653.44 554.88 L654.62 552.87 L655.8 550.84 L656.99 548.82 L658.17 546.78 L659.35 544.75 L660.53 542.7 L661.71 540.66 L662.89 538.61 L664.08 536.55 L665.26 534.5 L666.44 532.44 L667.62 530.38 L668.8 528.32 L669.98 526.26" stroke="#000" stroke-width="6.0" stroke-linecap="butt"/>
<circle cx="573.45" cy="648.5" r="4.6" fill="#f00" stroke="#000" stroke-width="1.8"/>
</g>
<g stroke="#000" stroke-width="2.78" fill="none" stroke-linecap="square"><path d="M183.6 387.7 V665.0"/><path d="M183.6 665.0 H662.8000000000001"/></g>
<text x="189.55" y="692" font-size="23.52">0</text>
<text x="257.6 271.85" y="692" font-size="23.52">10</text>
<text x="332.66 347.08" y="692" font-size="23.52">20</text>
<text x="408.21 422.31" y="692" font-size="23.52">30</text>
<text x="483.41 497.54" y="692" font-size="23.52">40</text>
<text x="558.56 572.77" y="692" font-size="23.52">50</text>
<text x="633.87 648" y="692" font-size="23.52">60</text>
<text x="138.21 152.07 159.39" y="397" font-size="23.52">0.0</text>
<text transform="translate(128.39 455.64) scale(1.216 1.099)" x="-6.87" y="7.82" font-size="23.52">−</text>
<text x="138.21 152.07 159.31" y="462.6" font-size="23.52">0.5</text>
<text transform="translate(128.39 521.24) scale(1.216 1.099)" x="-6.87" y="7.82" font-size="23.52">−</text>
<text x="138.09 152.07 159.39" y="528.2" font-size="23.52">1.0</text>
<text transform="translate(128.39 586.84) scale(1.216 1.099)" x="-6.87" y="7.82" font-size="23.52">−</text>
<text x="138.09 152.07 159.31" y="593.8" font-size="23.52">1.5</text>
<text transform="translate(128.39 652.44) scale(1.216 1.099)" x="-6.87" y="7.82" font-size="23.52">−</text>
<text x="137.92 152.07 159.39" y="659.4" font-size="23.52">2.0</text>
<g>
<g transform="translate(0 775.3)">
<text x="593.89" y="0" font-size="32.42" font-style="italic">X</text>
<text transform="translate(621.82 -2.02) scale(0.884 1)" x="-5.69" y="0" font-size="29.25">(</text>
<text transform="translate(635.15 -0.32) scale(1.130 1)" x="-5.86" y="0" font-size="32.74" font-style="italic">t</text>
<text transform="translate(645.58 -2.02) scale(0.884 1)" x="-4.05" y="0" font-size="29.25">)</text>
<text x="659.14" y="3.45" font-size="39.21">+</text>
<text transform="translate(696.96 -0.32) scale(1.130 1)" x="-5.86" y="0" font-size="32.74" font-style="italic">t</text>
<text transform="translate(706.67 2.5) scale(1.084 1)" x="-4.76" y="0" font-size="34.24">/</text>
<text transform="translate(721.15 0) scale(0.956 1)" x="-9.04" y="0" font-size="32.53">2</text>
<path d="M602.9 -27.65 L607.5 -33.55 L612.1 -27.65 L609.35 -27.65 L607.5 -30.02 L605.65 -27.65 Z" fill="#000"/>
<path d="M630.9 -26.5 L635.5 -32.4 L640.1 -26.5 L637.35 -26.5 L635.5 -28.87 L633.65 -26.5 Z" fill="#000"/>
<path d="M692.5 -26.5 L697.1 -32.4 L701.7 -26.5 L698.95 -26.5 L697.1 -28.87 L695.25 -26.5 Z" fill="#000"/>
</g></g>
<g transform="translate(45.2 380.2) rotate(-90)">
<text transform="translate(11.3 0) scale(0.928 1)" x="-13.47" y="0" font-size="32.42" font-style="italic">Y</text>
<text transform="translate(24.75 -2.02) scale(0.884 1)" x="-5.69" y="0" font-size="29.25">(</text>
<text transform="translate(38.08 -0.32) scale(1.130 1)" x="-5.86" y="0" font-size="32.74" font-style="italic">t</text>
<text transform="translate(48.51 -2.02) scale(0.884 1)" x="-4.05" y="0" font-size="29.25">)</text>
<path d="M7 -28.5 L11.6 -34.4 L16.2 -28.5 L13.45 -28.5 L11.6 -30.87 L9.75 -28.5 Z" fill="#000"/>
<path d="M33.2 -27.9 L37.8 -33.8 L42.4 -27.9 L39.65 -27.9 L37.8 -30.27 L35.95 -27.9 Z" fill="#000"/>
</g>
</svg>
</body></html>
